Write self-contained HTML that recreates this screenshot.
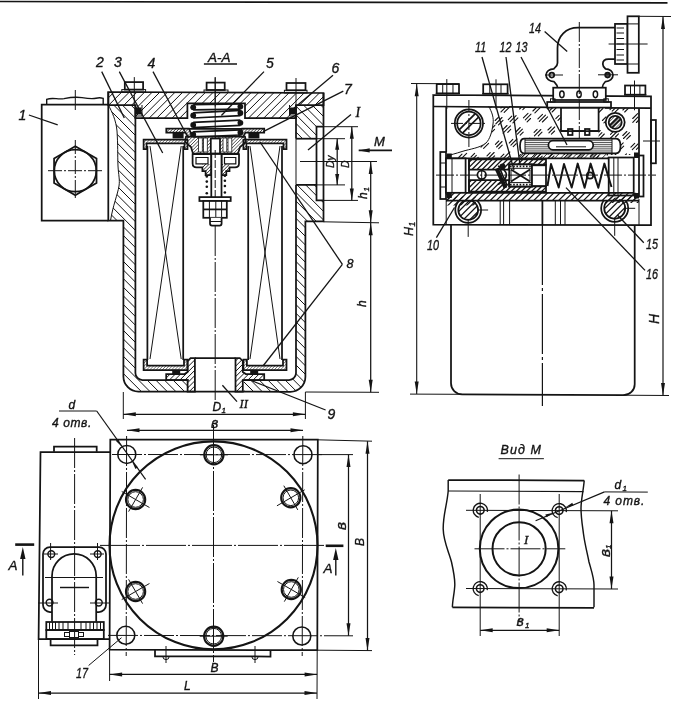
<!DOCTYPE html>
<html lang="ru"><head><meta charset="utf-8"><title>Фильтр</title>
<style>html,body{margin:0;padding:0;background:#ffffff;}svg{display:block;transform:translateZ(0);will-change:transform}</style></head>
<body><svg width="697" height="703" viewBox="0 0 697 703">
<defs><clipPath id="c1"><path d="M108.30,92.00 L323.50,93.00 L323.50,105.00 L296.00,105.00 L296.00,118.00 L245.00,118.00 L245.00,103.40 L187.40,103.40 L187.40,118.00 L135.40,118.00 L135.40,105.00 L108.30,105.00 Z"/></clipPath>
<clipPath id="c2"><path d="M108.4,105 C112,112 116,120 117,131 C118,145 117.5,155 118,166 C118.5,175 120,180 119,186 C117.5,195 113,205 110.5,220.7 L123.4,220.7 L123.4,376.5 A15,15 0 0 0 138.4,391.5 L188.7,391.5 L188.7,380 L142.4,380 A7,7 0 0 1 135.4,373 L135.4,105 Z"/></clipPath>
<clipPath id="c3"><path d="M296,105 L323.5,105 L323.5,126.7 L316.5,126.7 L316.5,138.7 L296,138.7 Z"/></clipPath>
<clipPath id="c4"><path d="M296,184.9 L316.5,184.9 L316.5,200.4 L323.5,200.4 L323.5,221.3 L305.4,221.3 L305.4,376.8 A15,15 0 0 1 290.4,391.8 L244,391.8 L244,380 L289,380 A7,7 0 0 0 296,373 Z"/></clipPath>
<clipPath id="c5"><path d="M143.6,139.6 L187.5,139.6 L187.5,149 L184.5,149 L184.5,143.4 L146.6,143.4 L146.6,149 L143.6,149 Z"/></clipPath>
<clipPath id="c6"><path d="M143.6,359.5 L147.1,359.5 L147.1,365.5 L184.0,365.5 L184.0,359.5 L187.5,359.5 L187.5,370 L143.6,370 Z"/></clipPath>
<clipPath id="c7"><path d="M243.4,139.6 L286.5,139.6 L286.5,149 L283.5,149 L283.5,143.4 L246.4,143.4 L246.4,149 L243.4,149 Z"/></clipPath>
<clipPath id="c8"><path d="M243.4,359.5 L246.9,359.5 L246.9,365.5 L283.0,365.5 L283.0,359.5 L286.5,359.5 L286.5,370 L243.4,370 Z"/></clipPath>
<clipPath id="c9"><path d="M194.89999999999998,358 L190.6,358 L187.6,361 L187.6,372 L184.6,374 L166.2,374 L166.2,380 L187.6,380 L187.6,391.5 L194.89999999999998,391.5 Z"/></clipPath>
<clipPath id="c10"><path d="M235.5,358 L239.79999999999998,358 L242.79999999999998,361 L242.79999999999998,372 L245.79999999999998,374 L264.2,374 L264.2,380 L242.79999999999998,380 L242.79999999999998,391.5 L235.5,391.5 Z"/></clipPath>
<clipPath id="c11"><path d="M166.3,128.7 L189,128.7 L192,136 L188,137 L185.5,132.6 L166.3,132.6 Z"/></clipPath>
<clipPath id="c12"><path d="M264.2,128.7 L242,128.7 L239,136 L243,137 L245.5,132.6 L264.2,132.6 Z"/></clipPath>
<clipPath id="c13"><path d="M186,136.5 L245,136.5 L246,142 L240,147 L238,153.5 L193,153.5 L191,147 L185,142 Z"/></clipPath>
<clipPath id="c14"><path d="M202.4,164 L211.3,164 L211.3,175 L205.6,175 L205.6,171 L202.4,171 Z"/></clipPath>
<clipPath id="c15"><path d="M221.5,164 L229.5,164 L229.5,171 L226.3,171 L226.3,175 L221.5,175 Z"/></clipPath>
<clipPath id="c16"><path d="M488.7,106.5 C492,112 494,118 493,124 C492,132 490,139 486,143 C480,148 470,149 462,151.5 C456,153.5 450,155 446.2,156 L446.2,159 L608,159 L608,154 L520,154 L520,138.5 L561,138.5 L561,107.4 Z"/></clipPath>
<clipPath id="c17"><path d="M598.6,108 L639,108.2 L639,155 L608,155 L608,154 L620,154 L620,138.5 L598.6,138.5 Z"/></clipPath>
<clipPath id="c18"><path d="M608.7,122.3 a6.5,6.5 0 1 0 13,0 a6.5,6.5 0 1 0 -13,0"/></clipPath>
<clipPath id="c19"><path d="M525,138.6 L612,138.6 L612,153.4 L525,153.4 Z"/></clipPath>
<clipPath id="c20"><path d="M446.2,192.8 L639,192.8 L639,200.6 L446.2,200.6 Z"/></clipPath>
<clipPath id="c21"><path d="M520,153.4 L608.7,153.4 L608.7,158.4 L520,158.4 Z"/></clipPath>
<clipPath id="c22"><path d="M469,159.3 L546,159.3 L546,164.6 L532,164.6 L532,164.4 L509.2,164.4 L509.2,169.5 L469,169.5 Z"/></clipPath>
<clipPath id="c23"><path d="M469,180 L509.2,180 L509.2,186.5 L532,186.5 L532,186.3 L546,186.3 L546,191.6 L469,191.6 Z"/></clipPath>
<clipPath id="c24"><path d="M446.2,196.5 L476,196.5 L476,205.5 L446.2,205.5 Z"/></clipPath>
<clipPath id="c25"><path d="M606,196.5 L639,196.5 L639,203 L606,203 Z"/></clipPath>
<clipPath id="c26"><rect x="453.3" y="200.6" width="29.8" height="24.9"/></clipPath>
<clipPath id="c27"><path d="M458.09999999999997,210 a10.100000000000001,10.100000000000001 0 1 0 20.200000000000003,0 a10.100000000000001,10.100000000000001 0 1 0 -20.200000000000003,0 Z"/></clipPath>
<clipPath id="c28"><rect x="599.2" y="200.6" width="31.0" height="25.5"/></clipPath>
<clipPath id="c29"><path d="M604.0,208.3 a10.7,10.7 0 1 0 21.4,0 a10.7,10.7 0 1 0 -21.4,0 Z"/></clipPath></defs>
<rect x="0" y="0" width="697" height="703" fill="#ffffff"/>
<g clip-path="url(#c1)" stroke="#141414" stroke-width="1.0"><line x1="53.53" y1="99.20" x2="210.20" y2="-57.47"/><line x1="57.35" y1="103.02" x2="214.02" y2="-53.65"/><line x1="61.17" y1="106.84" x2="217.84" y2="-49.83"/><line x1="64.99" y1="110.66" x2="221.66" y2="-46.01"/><line x1="68.81" y1="114.47" x2="225.47" y2="-42.19"/><line x1="72.63" y1="118.29" x2="229.29" y2="-38.37"/><line x1="76.44" y1="122.11" x2="233.11" y2="-34.56"/><line x1="80.26" y1="125.93" x2="236.93" y2="-30.74"/><line x1="84.08" y1="129.75" x2="240.75" y2="-26.92"/><line x1="87.90" y1="133.57" x2="244.57" y2="-23.10"/><line x1="91.72" y1="137.38" x2="248.38" y2="-19.28"/><line x1="95.54" y1="141.20" x2="252.20" y2="-15.46"/><line x1="99.36" y1="145.02" x2="256.02" y2="-11.64"/><line x1="103.17" y1="148.84" x2="259.84" y2="-7.83"/><line x1="106.99" y1="152.66" x2="263.66" y2="-4.01"/><line x1="110.81" y1="156.48" x2="267.48" y2="-0.19"/><line x1="114.63" y1="160.29" x2="271.29" y2="3.63"/><line x1="118.45" y1="164.11" x2="275.11" y2="7.45"/><line x1="122.27" y1="167.93" x2="278.93" y2="11.27"/><line x1="126.08" y1="171.75" x2="282.75" y2="15.08"/><line x1="129.90" y1="175.57" x2="286.57" y2="18.90"/><line x1="133.72" y1="179.39" x2="290.39" y2="22.72"/><line x1="137.54" y1="183.20" x2="294.20" y2="26.54"/><line x1="141.36" y1="187.02" x2="298.02" y2="30.36"/><line x1="145.18" y1="190.84" x2="301.84" y2="34.18"/><line x1="148.99" y1="194.66" x2="305.66" y2="37.99"/><line x1="152.81" y1="198.48" x2="309.48" y2="41.81"/><line x1="156.63" y1="202.30" x2="313.30" y2="45.63"/><line x1="160.45" y1="206.12" x2="317.12" y2="49.45"/><line x1="164.27" y1="209.93" x2="320.93" y2="53.27"/><line x1="168.09" y1="213.75" x2="324.75" y2="57.09"/><line x1="171.90" y1="217.57" x2="328.57" y2="60.90"/><line x1="175.72" y1="221.39" x2="332.39" y2="64.72"/><line x1="179.54" y1="225.21" x2="336.21" y2="68.54"/><line x1="183.36" y1="229.03" x2="340.03" y2="72.36"/><line x1="187.18" y1="232.84" x2="343.84" y2="76.18"/><line x1="191.00" y1="236.66" x2="347.66" y2="80.00"/><line x1="194.81" y1="240.48" x2="351.48" y2="83.81"/><line x1="198.63" y1="244.30" x2="355.30" y2="87.63"/><line x1="202.45" y1="248.12" x2="359.12" y2="91.45"/><line x1="206.27" y1="251.94" x2="362.94" y2="95.27"/><line x1="210.09" y1="255.75" x2="366.75" y2="99.09"/><line x1="213.91" y1="259.57" x2="370.57" y2="102.91"/><line x1="217.72" y1="263.39" x2="374.39" y2="106.72"/><line x1="221.54" y1="267.21" x2="378.21" y2="110.54"/></g>
<path d="M108.30,92.00 L323.50,93.00 L323.50,105.00 L296.00,105.00 L296.00,118.00 L245.00,118.00 L245.00,103.40 L187.40,103.40 L187.40,118.00 L135.40,118.00 L135.40,105.00 L108.30,105.00 Z" fill="none" stroke="#141414" stroke-width="1.75" stroke-linejoin="miter"/>
<rect x="136.00" y="107.50" width="5.50" height="7.00" rx="0" fill="#141414" stroke="none"/>
<rect x="290.00" y="107.50" width="5.50" height="7.00" rx="0" fill="#141414" stroke="none"/>
<line x1="135.40" y1="116.00" x2="142.00" y2="116.00" stroke="#141414" stroke-width="1.0" stroke-linecap="butt"/>
<line x1="142.00" y1="105.00" x2="142.00" y2="116.00" stroke="#141414" stroke-width="1.0" stroke-linecap="butt"/>
<line x1="289.50" y1="116.00" x2="296.00" y2="116.00" stroke="#141414" stroke-width="1.0" stroke-linecap="butt"/>
<line x1="289.50" y1="105.00" x2="289.50" y2="116.00" stroke="#141414" stroke-width="1.0" stroke-linecap="butt"/>
<g clip-path="url(#c2)" stroke="#141414" stroke-width="1.0"><line x1="156.51" y1="27.11" x2="370.39" y2="240.99"/><line x1="152.19" y1="31.42" x2="366.08" y2="245.31"/><line x1="147.88" y1="35.73" x2="361.77" y2="249.62"/><line x1="143.57" y1="40.05" x2="357.45" y2="253.93"/><line x1="139.25" y1="44.36" x2="353.14" y2="258.25"/><line x1="134.94" y1="48.67" x2="348.83" y2="262.56"/><line x1="130.63" y1="52.99" x2="344.51" y2="266.87"/><line x1="126.31" y1="57.30" x2="340.20" y2="271.19"/><line x1="122.00" y1="61.61" x2="335.89" y2="275.50"/><line x1="117.69" y1="65.93" x2="331.57" y2="279.81"/><line x1="113.37" y1="70.24" x2="327.26" y2="284.13"/><line x1="109.06" y1="74.55" x2="322.95" y2="288.44"/><line x1="104.75" y1="78.87" x2="318.63" y2="292.75"/><line x1="100.43" y1="83.18" x2="314.32" y2="297.07"/><line x1="96.12" y1="87.49" x2="310.01" y2="301.38"/><line x1="91.81" y1="91.81" x2="305.69" y2="305.69"/><line x1="87.49" y1="96.12" x2="301.38" y2="310.01"/><line x1="83.18" y1="100.43" x2="297.07" y2="314.32"/><line x1="78.87" y1="104.75" x2="292.75" y2="318.63"/><line x1="74.55" y1="109.06" x2="288.44" y2="322.95"/><line x1="70.24" y1="113.37" x2="284.13" y2="327.26"/><line x1="65.93" y1="117.69" x2="279.81" y2="331.57"/><line x1="61.61" y1="122.00" x2="275.50" y2="335.89"/><line x1="57.30" y1="126.31" x2="271.19" y2="340.20"/><line x1="52.99" y1="130.63" x2="266.87" y2="344.51"/><line x1="48.67" y1="134.94" x2="262.56" y2="348.83"/><line x1="44.36" y1="139.25" x2="258.25" y2="353.14"/><line x1="40.05" y1="143.57" x2="253.93" y2="357.45"/><line x1="35.73" y1="147.88" x2="249.62" y2="361.77"/><line x1="31.42" y1="152.19" x2="245.31" y2="366.08"/><line x1="27.11" y1="156.51" x2="240.99" y2="370.39"/><line x1="22.79" y1="160.82" x2="236.68" y2="374.71"/><line x1="18.48" y1="165.13" x2="232.37" y2="379.02"/><line x1="14.17" y1="169.45" x2="228.05" y2="383.33"/><line x1="9.85" y1="173.76" x2="223.74" y2="387.65"/><line x1="5.54" y1="178.07" x2="219.43" y2="391.96"/><line x1="1.23" y1="182.39" x2="215.11" y2="396.27"/><line x1="-3.09" y1="186.70" x2="210.80" y2="400.59"/><line x1="-7.40" y1="191.01" x2="206.49" y2="404.90"/><line x1="-11.71" y1="195.33" x2="202.17" y2="409.21"/><line x1="-16.03" y1="199.64" x2="197.86" y2="413.53"/><line x1="-20.34" y1="203.95" x2="193.55" y2="417.84"/><line x1="-24.65" y1="208.27" x2="189.23" y2="422.15"/><line x1="-28.97" y1="212.58" x2="184.92" y2="426.47"/><line x1="-33.28" y1="216.89" x2="180.61" y2="430.78"/><line x1="-37.59" y1="221.21" x2="176.29" y2="435.09"/><line x1="-41.91" y1="225.52" x2="171.98" y2="439.41"/><line x1="-46.22" y1="229.83" x2="167.67" y2="443.72"/><line x1="-50.54" y1="234.15" x2="163.35" y2="448.04"/><line x1="-54.85" y1="238.46" x2="159.04" y2="452.35"/><line x1="-59.16" y1="242.77" x2="154.73" y2="456.66"/><line x1="-63.48" y1="247.09" x2="150.41" y2="460.98"/><line x1="-67.79" y1="251.40" x2="146.10" y2="465.29"/><line x1="-72.10" y1="255.71" x2="141.79" y2="469.60"/></g>
<path d="M108.4,105 C112,112 116,120 117,131 C118,145 117.5,155 118,166 C118.5,175 120,180 119,186 C117.5,195 113,205 110.5,220.7" fill="none" stroke="#141414" stroke-width="1.0" stroke-linejoin="miter"/>
<g clip-path="url(#c3)" stroke="#141414" stroke-width="1.0"><line x1="315.47" y1="82.55" x2="349.45" y2="116.53"/><line x1="311.16" y1="86.87" x2="345.13" y2="120.84"/><line x1="306.85" y1="91.18" x2="340.82" y2="125.15"/><line x1="302.53" y1="95.49" x2="336.51" y2="129.47"/><line x1="298.22" y1="99.81" x2="332.19" y2="133.78"/><line x1="293.91" y1="104.12" x2="327.88" y2="138.09"/><line x1="289.59" y1="108.43" x2="323.57" y2="142.41"/><line x1="285.28" y1="112.75" x2="319.25" y2="146.72"/><line x1="280.97" y1="117.06" x2="314.94" y2="151.03"/><line x1="276.65" y1="121.37" x2="310.63" y2="155.35"/><line x1="272.34" y1="125.69" x2="306.31" y2="159.66"/><line x1="268.03" y1="130.00" x2="302.00" y2="163.97"/></g>
<g clip-path="url(#c4)" stroke="#141414" stroke-width="1.0"><line x1="292.06" y1="119.53" x2="452.47" y2="279.94"/><line x1="287.75" y1="123.84" x2="448.16" y2="284.25"/><line x1="283.44" y1="128.15" x2="443.85" y2="288.56"/><line x1="279.12" y1="132.47" x2="439.53" y2="292.88"/><line x1="274.81" y1="136.78" x2="435.22" y2="297.19"/><line x1="270.50" y1="141.09" x2="430.91" y2="301.50"/><line x1="266.18" y1="145.41" x2="426.59" y2="305.82"/><line x1="261.87" y1="149.72" x2="422.28" y2="310.13"/><line x1="257.56" y1="154.03" x2="417.97" y2="314.44"/><line x1="253.24" y1="158.35" x2="413.65" y2="318.76"/><line x1="248.93" y1="162.66" x2="409.34" y2="323.07"/><line x1="244.62" y1="166.97" x2="405.03" y2="327.38"/><line x1="240.30" y1="171.29" x2="400.71" y2="331.70"/><line x1="235.99" y1="175.60" x2="396.40" y2="336.01"/><line x1="231.68" y1="179.91" x2="392.09" y2="340.32"/><line x1="227.36" y1="184.23" x2="387.77" y2="344.64"/><line x1="223.05" y1="188.54" x2="383.46" y2="348.95"/><line x1="218.73" y1="192.85" x2="379.15" y2="353.27"/><line x1="214.42" y1="197.17" x2="374.83" y2="357.58"/><line x1="210.11" y1="201.48" x2="370.52" y2="361.89"/><line x1="205.79" y1="205.79" x2="366.21" y2="366.21"/><line x1="201.48" y1="210.11" x2="361.89" y2="370.52"/><line x1="197.17" y1="214.42" x2="357.58" y2="374.83"/><line x1="192.85" y1="218.73" x2="353.27" y2="379.15"/><line x1="188.54" y1="223.05" x2="348.95" y2="383.46"/><line x1="184.23" y1="227.36" x2="344.64" y2="387.77"/><line x1="179.91" y1="231.68" x2="340.32" y2="392.09"/><line x1="175.60" y1="235.99" x2="336.01" y2="396.40"/><line x1="171.29" y1="240.30" x2="331.70" y2="400.71"/><line x1="166.97" y1="244.62" x2="327.38" y2="405.03"/><line x1="162.66" y1="248.93" x2="323.07" y2="409.34"/><line x1="158.35" y1="253.24" x2="318.76" y2="413.65"/><line x1="154.03" y1="257.56" x2="314.44" y2="417.97"/><line x1="149.72" y1="261.87" x2="310.13" y2="422.28"/><line x1="145.41" y1="266.18" x2="305.82" y2="426.59"/><line x1="141.09" y1="270.50" x2="301.50" y2="430.91"/><line x1="136.78" y1="274.81" x2="297.19" y2="435.22"/><line x1="132.47" y1="279.12" x2="292.88" y2="439.53"/><line x1="128.15" y1="283.44" x2="288.56" y2="443.85"/><line x1="123.84" y1="287.75" x2="284.25" y2="448.16"/><line x1="119.53" y1="292.06" x2="279.94" y2="452.47"/><line x1="115.21" y1="296.38" x2="275.62" y2="456.79"/></g>
<path d="M108.3,92 L108.3,220.7 L123.4,220.7 L123.4,376.5 A15,15 0 0 0 138.4,391.5 L290.4,391.8 A15,15 0 0 0 305.4,376.8 L305.4,221.3 L323.5,221.3 L323.5,93" fill="none" stroke="#141414" stroke-width="1.75" stroke-linejoin="miter"/>
<path d="M135.4,105 L135.4,373 A7,7 0 0 0 142.4,380 L188.7,380" fill="none" stroke="#141414" stroke-width="1.75" stroke-linejoin="miter"/>
<path d="M296,105 L296,138.7 M296,184.9 L296,373 A7,7 0 0 1 289,380 L244,380" fill="none" stroke="#141414" stroke-width="1.75" stroke-linejoin="miter"/>
<line x1="296.00" y1="138.70" x2="296.00" y2="184.90" stroke="#141414" stroke-width="1.0" stroke-linecap="butt"/>
<path d="M323.50,126.70 L316.50,126.70 L316.50,200.40 L323.50,200.40" fill="none" stroke="#141414" stroke-width="1.75" stroke-linejoin="miter"/>
<line x1="296.00" y1="138.70" x2="316.50" y2="138.70" stroke="#141414" stroke-width="1.75" stroke-linecap="butt"/>
<line x1="296.00" y1="184.90" x2="316.50" y2="184.90" stroke="#141414" stroke-width="1.75" stroke-linecap="butt"/>
<path d="M108.30,104.60 L41.70,104.60 L41.70,220.70 L108.30,220.70" fill="none" stroke="#141414" stroke-width="1.75" stroke-linejoin="miter"/>
<path d="M46.7,104.6 L46.7,99.3 C52,97.3 58,99.6 64,98.6 C70,97.4 76,96.8 82,97.6 C88,98.6 92,99.2 96,98.2 C99,97.4 101,97.6 103.2,98.3 L103.2,104.6" fill="none" stroke="#141414" stroke-width="1.4" stroke-linejoin="miter"/>
<path d="M75.30,146.20 L96.52,158.45 L96.52,182.95 L75.30,195.20 L54.08,182.95 L54.08,158.45 Z" fill="none" stroke="#141414" stroke-width="1.75" stroke-linejoin="miter"/>
<circle cx="75.30" cy="170.70" r="21.00" fill="none" stroke="#141414" stroke-width="1.75"/>
<line x1="75.30" y1="90.00" x2="75.30" y2="110.00" stroke="#141414" stroke-width="1.0" stroke-linecap="butt"/>
<line x1="75.30" y1="140.00" x2="75.30" y2="200.00" stroke="#141414" stroke-width="1.0" stroke-dasharray="14 2 2 2" stroke-linecap="butt"/>
<line x1="48.00" y1="170.70" x2="102.00" y2="170.70" stroke="#141414" stroke-width="1.0" stroke-dasharray="14 2 2 2" stroke-linecap="butt"/>
<rect x="124.80" y="82.10" width="18.30" height="7.50" rx="0" fill="none" stroke="#141414" stroke-width="1.75"/>
<rect x="121.80" y="89.60" width="23.80" height="2.40" rx="0" fill="none" stroke="#141414" stroke-width="1.0"/>
<line x1="134.30" y1="77.10" x2="134.30" y2="106.00" stroke="#141414" stroke-width="1.0" stroke-linecap="butt"/>
<rect x="206.60" y="82.60" width="18.10" height="7.40" rx="0" fill="none" stroke="#141414" stroke-width="1.75"/>
<rect x="204.00" y="90.00" width="24.00" height="2.50" rx="0" fill="none" stroke="#141414" stroke-width="1.0"/>
<line x1="215.20" y1="77.60" x2="215.20" y2="106.50" stroke="#141414" stroke-width="1.0" stroke-linecap="butt"/>
<rect x="286.50" y="83.00" width="19.00" height="7.30" rx="0" fill="none" stroke="#141414" stroke-width="1.75"/>
<rect x="284.40" y="90.30" width="22.60" height="2.70" rx="0" fill="none" stroke="#141414" stroke-width="1.0"/>
<line x1="296.00" y1="78.00" x2="296.00" y2="107.00" stroke="#141414" stroke-width="1.0" stroke-linecap="butt"/>
<line x1="215.20" y1="77.00" x2="215.20" y2="150.00" stroke="#141414" stroke-width="1.0" stroke-linecap="butt"/>
<line x1="215.20" y1="226.00" x2="215.20" y2="400.00" stroke="#141414" stroke-width="1.0" stroke-dasharray="30 2 2 2" stroke-linecap="butt"/>
<line x1="147.40" y1="146.00" x2="147.40" y2="360.00" stroke="#141414" stroke-width="1.75" stroke-linecap="butt"/>
<line x1="183.20" y1="146.00" x2="183.20" y2="360.00" stroke="#141414" stroke-width="1.75" stroke-linecap="butt"/>
<line x1="150.00" y1="146.00" x2="181.20" y2="359.00" stroke="#141414" stroke-width="1.0" stroke-linecap="butt"/>
<line x1="181.20" y1="146.00" x2="150.00" y2="359.00" stroke="#141414" stroke-width="1.0" stroke-linecap="butt"/>
<g clip-path="url(#c5)" stroke="#141414" stroke-width="0.6"><line x1="128.45" y1="142.23" x2="163.28" y2="107.40"/><line x1="130.01" y1="143.79" x2="164.84" y2="108.96"/><line x1="131.56" y1="145.34" x2="166.39" y2="110.51"/><line x1="133.12" y1="146.90" x2="167.95" y2="112.07"/><line x1="134.67" y1="148.45" x2="169.50" y2="113.62"/><line x1="136.23" y1="150.01" x2="171.06" y2="115.18"/><line x1="137.78" y1="151.56" x2="172.61" y2="116.73"/><line x1="139.34" y1="153.12" x2="174.17" y2="118.29"/><line x1="140.90" y1="154.68" x2="175.73" y2="119.85"/><line x1="142.45" y1="156.23" x2="177.28" y2="121.40"/><line x1="144.01" y1="157.79" x2="178.84" y2="122.96"/><line x1="145.56" y1="159.34" x2="180.39" y2="124.51"/><line x1="147.12" y1="160.90" x2="181.95" y2="126.07"/><line x1="148.67" y1="162.45" x2="183.50" y2="127.62"/><line x1="150.23" y1="164.01" x2="185.06" y2="129.18"/><line x1="151.78" y1="165.56" x2="186.61" y2="130.73"/><line x1="153.34" y1="167.12" x2="188.17" y2="132.29"/><line x1="154.90" y1="168.68" x2="189.73" y2="133.85"/><line x1="156.45" y1="170.23" x2="191.28" y2="135.40"/><line x1="158.01" y1="171.79" x2="192.84" y2="136.96"/><line x1="159.56" y1="173.34" x2="194.39" y2="138.51"/><line x1="161.12" y1="174.90" x2="195.95" y2="140.07"/><line x1="162.67" y1="176.45" x2="197.50" y2="141.62"/><line x1="164.23" y1="178.01" x2="199.06" y2="143.18"/><line x1="165.79" y1="179.57" x2="200.62" y2="144.74"/><line x1="167.34" y1="181.12" x2="202.17" y2="146.29"/></g>
<path d="M143.6,139.6 L187.5,139.6 L187.5,149 L184.5,149 L184.5,143.4 L146.6,143.4 L146.6,149 L143.6,149 Z" fill="none" stroke="#141414" stroke-width="1.75" stroke-linejoin="miter"/>
<g clip-path="url(#c6)" stroke="#141414" stroke-width="0.6"><line x1="128.56" y1="363.02" x2="163.57" y2="328.01"/><line x1="130.12" y1="364.58" x2="165.13" y2="329.57"/><line x1="131.67" y1="366.13" x2="166.68" y2="331.12"/><line x1="133.23" y1="367.69" x2="168.24" y2="332.68"/><line x1="134.78" y1="369.24" x2="169.79" y2="334.23"/><line x1="136.34" y1="370.80" x2="171.35" y2="335.79"/><line x1="137.89" y1="372.35" x2="172.90" y2="337.34"/><line x1="139.45" y1="373.91" x2="174.46" y2="338.90"/><line x1="141.01" y1="375.47" x2="176.02" y2="340.46"/><line x1="142.56" y1="377.02" x2="177.57" y2="342.01"/><line x1="144.12" y1="378.58" x2="179.13" y2="343.57"/><line x1="145.67" y1="380.13" x2="180.68" y2="345.12"/><line x1="147.23" y1="381.69" x2="182.24" y2="346.68"/><line x1="148.78" y1="383.24" x2="183.79" y2="348.23"/><line x1="150.34" y1="384.80" x2="185.35" y2="349.79"/><line x1="151.90" y1="386.35" x2="186.90" y2="351.35"/><line x1="153.45" y1="387.91" x2="188.46" y2="352.90"/><line x1="155.01" y1="389.47" x2="190.02" y2="354.46"/><line x1="156.56" y1="391.02" x2="191.57" y2="356.01"/><line x1="158.12" y1="392.58" x2="193.13" y2="357.57"/><line x1="159.67" y1="394.13" x2="194.68" y2="359.12"/><line x1="161.23" y1="395.69" x2="196.24" y2="360.68"/><line x1="162.78" y1="397.24" x2="197.79" y2="362.23"/><line x1="164.34" y1="398.80" x2="199.35" y2="363.79"/><line x1="165.90" y1="400.36" x2="200.91" y2="365.35"/><line x1="167.45" y1="401.91" x2="202.46" y2="366.90"/></g>
<path d="M143.6,359.5 L147.1,359.5 L147.1,365.5 L184.0,365.5 L184.0,359.5 L187.5,359.5 L187.5,370 L143.6,370 Z" fill="none" stroke="#141414" stroke-width="1.75" stroke-linejoin="miter"/>
<line x1="248.20" y1="146.00" x2="248.20" y2="360.00" stroke="#141414" stroke-width="1.75" stroke-linecap="butt"/>
<line x1="282.00" y1="146.00" x2="282.00" y2="360.00" stroke="#141414" stroke-width="1.75" stroke-linecap="butt"/>
<line x1="250.00" y1="146.00" x2="280.00" y2="359.00" stroke="#141414" stroke-width="1.0" stroke-linecap="butt"/>
<line x1="280.00" y1="146.00" x2="250.00" y2="359.00" stroke="#141414" stroke-width="1.0" stroke-linecap="butt"/>
<g clip-path="url(#c7)" stroke="#141414" stroke-width="0.6"><line x1="228.20" y1="142.04" x2="262.49" y2="107.75"/><line x1="229.76" y1="143.59" x2="264.04" y2="109.31"/><line x1="231.32" y1="145.15" x2="265.60" y2="110.87"/><line x1="232.87" y1="146.70" x2="267.15" y2="112.42"/><line x1="234.43" y1="148.26" x2="268.71" y2="113.98"/><line x1="235.98" y1="149.81" x2="270.26" y2="115.53"/><line x1="237.54" y1="151.37" x2="271.82" y2="117.09"/><line x1="239.09" y1="152.93" x2="273.38" y2="118.64"/><line x1="240.65" y1="154.48" x2="274.93" y2="120.20"/><line x1="242.21" y1="156.04" x2="276.49" y2="121.76"/><line x1="243.76" y1="157.59" x2="278.04" y2="123.31"/><line x1="245.32" y1="159.15" x2="279.60" y2="124.87"/><line x1="246.87" y1="160.70" x2="281.15" y2="126.42"/><line x1="248.43" y1="162.26" x2="282.71" y2="127.98"/><line x1="249.98" y1="163.82" x2="284.27" y2="129.53"/><line x1="251.54" y1="165.37" x2="285.82" y2="131.09"/><line x1="253.09" y1="166.93" x2="287.38" y2="132.64"/><line x1="254.65" y1="168.48" x2="288.93" y2="134.20"/><line x1="256.21" y1="170.04" x2="290.49" y2="135.76"/><line x1="257.76" y1="171.59" x2="292.04" y2="137.31"/><line x1="259.32" y1="173.15" x2="293.60" y2="138.87"/><line x1="260.87" y1="174.70" x2="295.15" y2="140.42"/><line x1="262.43" y1="176.26" x2="296.71" y2="141.98"/><line x1="263.98" y1="177.82" x2="298.27" y2="143.53"/><line x1="265.54" y1="179.37" x2="299.82" y2="145.09"/><line x1="267.10" y1="180.93" x2="301.38" y2="146.65"/></g>
<path d="M243.4,139.6 L286.5,139.6 L286.5,149 L283.5,149 L283.5,143.4 L246.4,143.4 L246.4,149 L243.4,149 Z" fill="none" stroke="#141414" stroke-width="1.75" stroke-linejoin="miter"/>
<g clip-path="url(#c8)" stroke="#141414" stroke-width="0.6"><line x1="228.31" y1="362.83" x2="262.78" y2="328.36"/><line x1="229.87" y1="364.38" x2="264.33" y2="329.92"/><line x1="231.42" y1="365.94" x2="265.89" y2="331.47"/><line x1="232.98" y1="367.49" x2="267.44" y2="333.03"/><line x1="234.54" y1="369.05" x2="269.00" y2="334.59"/><line x1="236.09" y1="370.61" x2="270.56" y2="336.14"/><line x1="237.65" y1="372.16" x2="272.11" y2="337.70"/><line x1="239.20" y1="373.72" x2="273.67" y2="339.25"/><line x1="240.76" y1="375.27" x2="275.22" y2="340.81"/><line x1="242.31" y1="376.83" x2="276.78" y2="342.36"/><line x1="243.87" y1="378.38" x2="278.33" y2="343.92"/><line x1="245.43" y1="379.94" x2="279.89" y2="345.48"/><line x1="246.98" y1="381.50" x2="281.45" y2="347.03"/><line x1="248.54" y1="383.05" x2="283.00" y2="348.59"/><line x1="250.09" y1="384.61" x2="284.56" y2="350.14"/><line x1="251.65" y1="386.16" x2="286.11" y2="351.70"/><line x1="253.20" y1="387.72" x2="287.67" y2="353.25"/><line x1="254.76" y1="389.27" x2="289.22" y2="354.81"/><line x1="256.32" y1="390.83" x2="290.78" y2="356.37"/><line x1="257.87" y1="392.38" x2="292.33" y2="357.92"/><line x1="259.43" y1="393.94" x2="293.89" y2="359.48"/><line x1="260.98" y1="395.50" x2="295.45" y2="361.03"/><line x1="262.54" y1="397.05" x2="297.00" y2="362.59"/><line x1="264.09" y1="398.61" x2="298.56" y2="364.14"/><line x1="265.65" y1="400.16" x2="300.11" y2="365.70"/><line x1="267.20" y1="401.72" x2="301.67" y2="367.25"/></g>
<path d="M243.4,359.5 L246.9,359.5 L246.9,365.5 L283.0,365.5 L283.0,359.5 L286.5,359.5 L286.5,370 L243.4,370 Z" fill="none" stroke="#141414" stroke-width="1.75" stroke-linejoin="miter"/>
<g clip-path="url(#c9)" stroke="#141414" stroke-width="1.0"><line x1="142.01" y1="370.79" x2="176.84" y2="335.96"/><line x1="144.62" y1="373.41" x2="179.46" y2="338.57"/><line x1="147.24" y1="376.02" x2="182.07" y2="341.19"/><line x1="149.85" y1="378.64" x2="184.69" y2="343.80"/><line x1="152.47" y1="381.25" x2="187.30" y2="346.42"/><line x1="155.09" y1="383.87" x2="189.92" y2="349.04"/><line x1="157.70" y1="386.49" x2="192.54" y2="351.65"/><line x1="160.32" y1="389.10" x2="195.15" y2="354.27"/><line x1="162.94" y1="391.72" x2="197.77" y2="356.89"/><line x1="165.55" y1="394.34" x2="200.39" y2="359.50"/><line x1="168.17" y1="396.95" x2="203.00" y2="362.12"/><line x1="170.78" y1="399.57" x2="205.62" y2="364.73"/><line x1="173.40" y1="402.18" x2="208.23" y2="367.35"/><line x1="176.02" y1="404.80" x2="210.85" y2="369.97"/><line x1="178.63" y1="407.42" x2="213.47" y2="372.58"/><line x1="181.25" y1="410.03" x2="216.08" y2="375.20"/><line x1="183.87" y1="412.65" x2="218.70" y2="377.82"/></g>
<path d="M194.89999999999998,358 L190.6,358 L187.6,361 L187.6,372 L184.6,374 L166.2,374 L166.2,380 L187.6,380 L187.6,391.5 L194.89999999999998,391.5 Z" fill="none" stroke="#141414" stroke-width="1.75" stroke-linejoin="miter"/>
<rect x="172.20" y="369.80" width="8.00" height="4.40" rx="0" fill="#141414" stroke="none"/>
<g clip-path="url(#c10)" stroke="#141414" stroke-width="1.0"><line x1="210.67" y1="370.15" x2="245.50" y2="335.32"/><line x1="213.28" y1="372.77" x2="248.12" y2="337.93"/><line x1="215.90" y1="375.38" x2="250.73" y2="340.55"/><line x1="218.52" y1="378.00" x2="253.35" y2="343.17"/><line x1="221.13" y1="380.62" x2="255.97" y2="345.78"/><line x1="223.75" y1="383.23" x2="258.58" y2="348.40"/><line x1="226.36" y1="385.85" x2="261.20" y2="351.01"/><line x1="228.98" y1="388.46" x2="263.81" y2="353.63"/><line x1="231.60" y1="391.08" x2="266.43" y2="356.25"/><line x1="234.21" y1="393.70" x2="269.05" y2="358.86"/><line x1="236.83" y1="396.31" x2="271.66" y2="361.48"/><line x1="239.45" y1="398.93" x2="274.28" y2="364.10"/><line x1="242.06" y1="401.55" x2="276.90" y2="366.71"/><line x1="244.68" y1="404.16" x2="279.51" y2="369.33"/><line x1="247.29" y1="406.78" x2="282.13" y2="371.94"/><line x1="249.91" y1="409.40" x2="284.75" y2="374.56"/><line x1="252.53" y1="412.01" x2="287.36" y2="377.18"/></g>
<path d="M235.5,358 L239.79999999999998,358 L242.79999999999998,361 L242.79999999999998,372 L245.79999999999998,374 L264.2,374 L264.2,380 L242.79999999999998,380 L242.79999999999998,391.5 L235.5,391.5 Z" fill="none" stroke="#141414" stroke-width="1.75" stroke-linejoin="miter"/>
<rect x="250.20" y="369.80" width="8.00" height="4.40" rx="0" fill="#141414" stroke="none"/>
<line x1="194.90" y1="358.00" x2="235.50" y2="358.00" stroke="#141414" stroke-width="1.75" stroke-linecap="butt"/>
<circle cx="193.20" cy="107.30" r="2.90" fill="#141414" stroke="none"/>
<circle cx="240.40" cy="106.60" r="2.90" fill="#141414" stroke="none"/>
<circle cx="193.20" cy="115.40" r="2.90" fill="#141414" stroke="none"/>
<circle cx="240.40" cy="113.00" r="2.90" fill="#141414" stroke="none"/>
<circle cx="193.20" cy="125.00" r="2.90" fill="#141414" stroke="none"/>
<circle cx="240.40" cy="122.80" r="2.90" fill="#141414" stroke="none"/>
<circle cx="193.20" cy="134.40" r="2.90" fill="#141414" stroke="none"/>
<circle cx="240.40" cy="132.40" r="2.90" fill="#141414" stroke="none"/>
<line x1="193.20" y1="104.70" x2="240.40" y2="104.00" stroke="#141414" stroke-width="1.75" stroke-linecap="butt"/>
<line x1="193.20" y1="109.90" x2="240.40" y2="109.20" stroke="#141414" stroke-width="1.75" stroke-linecap="butt"/>
<line x1="193.20" y1="112.80" x2="240.40" y2="110.40" stroke="#141414" stroke-width="1.75" stroke-linecap="butt"/>
<line x1="193.20" y1="118.00" x2="240.40" y2="115.60" stroke="#141414" stroke-width="1.75" stroke-linecap="butt"/>
<line x1="193.20" y1="122.40" x2="240.40" y2="120.20" stroke="#141414" stroke-width="1.75" stroke-linecap="butt"/>
<line x1="193.20" y1="127.60" x2="240.40" y2="125.40" stroke="#141414" stroke-width="1.75" stroke-linecap="butt"/>
<line x1="193.20" y1="131.80" x2="240.40" y2="129.80" stroke="#141414" stroke-width="1.75" stroke-linecap="butt"/>
<line x1="193.20" y1="137.00" x2="240.40" y2="135.00" stroke="#141414" stroke-width="1.75" stroke-linecap="butt"/>
<g clip-path="url(#c11)" stroke="#141414" stroke-width="0.8"><line x1="153.22" y1="129.91" x2="176.41" y2="106.72"/><line x1="154.77" y1="131.46" x2="177.96" y2="108.27"/><line x1="156.33" y1="133.02" x2="179.52" y2="109.83"/><line x1="157.89" y1="134.57" x2="181.07" y2="111.39"/><line x1="159.44" y1="136.13" x2="182.63" y2="112.94"/><line x1="161.00" y1="137.68" x2="184.18" y2="114.50"/><line x1="162.55" y1="139.24" x2="185.74" y2="116.05"/><line x1="164.11" y1="140.80" x2="187.30" y2="117.61"/><line x1="165.66" y1="142.35" x2="188.85" y2="119.16"/><line x1="167.22" y1="143.91" x2="190.41" y2="120.72"/><line x1="168.78" y1="145.46" x2="191.96" y2="122.28"/><line x1="170.33" y1="147.02" x2="193.52" y2="123.83"/><line x1="171.89" y1="148.57" x2="195.07" y2="125.39"/><line x1="173.44" y1="150.13" x2="196.63" y2="126.94"/><line x1="175.00" y1="151.69" x2="198.19" y2="128.50"/><line x1="176.55" y1="153.24" x2="199.74" y2="130.05"/><line x1="178.11" y1="154.80" x2="201.30" y2="131.61"/><line x1="179.66" y1="156.35" x2="202.85" y2="133.16"/><line x1="181.22" y1="157.91" x2="204.41" y2="134.72"/></g>
<path d="M166.3,128.7 L189,128.7 L192,136 L188,137 L185.5,132.6 L166.3,132.6 Z" fill="none" stroke="#141414" stroke-width="1.75" stroke-linejoin="miter"/>
<g clip-path="url(#c12)" stroke="#141414" stroke-width="0.8"><line x1="226.55" y1="131.24" x2="249.74" y2="108.05"/><line x1="228.11" y1="132.80" x2="251.30" y2="109.61"/><line x1="229.67" y1="134.35" x2="252.85" y2="111.17"/><line x1="231.22" y1="135.91" x2="254.41" y2="112.72"/><line x1="232.78" y1="137.46" x2="255.96" y2="114.28"/><line x1="234.33" y1="139.02" x2="257.52" y2="115.83"/><line x1="235.89" y1="140.58" x2="259.08" y2="117.39"/><line x1="237.44" y1="142.13" x2="260.63" y2="118.94"/><line x1="239.00" y1="143.69" x2="262.19" y2="120.50"/><line x1="240.55" y1="145.24" x2="263.74" y2="122.05"/><line x1="242.11" y1="146.80" x2="265.30" y2="123.61"/><line x1="243.67" y1="148.35" x2="266.85" y2="125.17"/><line x1="245.22" y1="149.91" x2="268.41" y2="126.72"/><line x1="246.78" y1="151.47" x2="269.97" y2="128.28"/><line x1="248.33" y1="153.02" x2="271.52" y2="129.83"/><line x1="249.89" y1="154.58" x2="273.08" y2="131.39"/><line x1="251.44" y1="156.13" x2="274.63" y2="132.94"/><line x1="253.00" y1="157.69" x2="276.19" y2="134.50"/><line x1="254.56" y1="159.24" x2="277.74" y2="136.06"/></g>
<path d="M264.2,128.7 L242,128.7 L239,136 L243,137 L245.5,132.6 L264.2,132.6 Z" fill="none" stroke="#141414" stroke-width="1.75" stroke-linejoin="miter"/>
<line x1="189.00" y1="128.90" x2="242.00" y2="128.90" stroke="#141414" stroke-width="1.75" stroke-linecap="butt"/>
<rect x="172.60" y="132.60" width="11.00" height="5.80" rx="0" fill="#141414" stroke="none"/>
<rect x="248.40" y="132.60" width="11.00" height="5.80" rx="0" fill="#141414" stroke="none"/>
<g clip-path="url(#c13)" stroke="#141414" stroke-width="0.75"><line x1="165.78" y1="143.08" x2="213.58" y2="95.28"/><line x1="167.48" y1="144.78" x2="215.28" y2="96.98"/><line x1="169.18" y1="146.48" x2="216.98" y2="98.68"/><line x1="170.87" y1="148.17" x2="218.67" y2="100.37"/><line x1="172.57" y1="149.87" x2="220.37" y2="102.07"/><line x1="174.27" y1="151.57" x2="222.07" y2="103.77"/><line x1="175.96" y1="153.26" x2="223.76" y2="105.46"/><line x1="177.66" y1="154.96" x2="225.46" y2="107.16"/><line x1="179.36" y1="156.66" x2="227.16" y2="108.86"/><line x1="181.06" y1="158.36" x2="228.86" y2="110.56"/><line x1="182.75" y1="160.05" x2="230.55" y2="112.25"/><line x1="184.45" y1="161.75" x2="232.25" y2="113.95"/><line x1="186.15" y1="163.45" x2="233.95" y2="115.65"/><line x1="187.84" y1="165.14" x2="235.64" y2="117.34"/><line x1="189.54" y1="166.84" x2="237.34" y2="119.04"/><line x1="191.24" y1="168.54" x2="239.04" y2="120.74"/><line x1="192.93" y1="170.24" x2="240.74" y2="122.43"/><line x1="194.63" y1="171.93" x2="242.43" y2="124.13"/><line x1="196.33" y1="173.63" x2="244.13" y2="125.83"/><line x1="198.03" y1="175.33" x2="245.83" y2="127.53"/><line x1="199.72" y1="177.02" x2="247.52" y2="129.22"/><line x1="201.42" y1="178.72" x2="249.22" y2="130.92"/><line x1="203.12" y1="180.42" x2="250.92" y2="132.62"/><line x1="204.81" y1="182.11" x2="252.61" y2="134.31"/><line x1="206.51" y1="183.81" x2="254.31" y2="136.01"/><line x1="208.21" y1="185.51" x2="256.01" y2="137.71"/><line x1="209.91" y1="187.21" x2="257.71" y2="139.41"/><line x1="211.60" y1="188.90" x2="259.40" y2="141.10"/><line x1="213.30" y1="190.60" x2="261.10" y2="142.80"/><line x1="215.00" y1="192.30" x2="262.80" y2="144.50"/><line x1="216.69" y1="193.99" x2="264.49" y2="146.19"/><line x1="218.39" y1="195.69" x2="266.19" y2="147.89"/></g>
<path d="M186,136.5 L245,136.5 L246,142 L240,147 L238,153.5 L193,153.5 L191,147 L185,142 Z" fill="none" stroke="#141414" stroke-width="1.75" stroke-linejoin="miter"/>
<rect x="198.50" y="138.00" width="3.80" height="14.00" rx="0" fill="#fff" stroke="#141414" stroke-width="0.8"/>
<rect x="203.50" y="138.00" width="3.80" height="14.00" rx="0" fill="#fff" stroke="#141414" stroke-width="0.8"/>
<rect x="223.00" y="138.00" width="3.80" height="14.00" rx="0" fill="#fff" stroke="#141414" stroke-width="0.8"/>
<rect x="228.00" y="138.00" width="3.80" height="14.00" rx="0" fill="#fff" stroke="#141414" stroke-width="0.8"/>
<rect x="210.80" y="138.50" width="9.20" height="15.00" rx="0" fill="#fff" stroke="#141414" stroke-width="1.75"/>
<path d="M192.6,154 L239,154 L239,163.5 Q239,167.3 235,167.3 L229.5,167.3 L229.5,171 L226.3,171 L226.3,175 L221.5,175 L221.5,154 L211.3,154 L211.3,175 L205.6,175 L205.6,171 L202.4,171 L202.4,167.3 L196.6,167.3 Q192.6,167.3 192.6,163.5 Z" fill="#fff" stroke="#141414" stroke-width="1.75" stroke-linejoin="miter"/>
<path d="M196,157.5 L208,157.5 L208,163.8 L196,163.8 Z" fill="none" stroke="#141414" stroke-width="1.2" stroke-linejoin="miter"/>
<path d="M224.5,157.5 L235.8,157.5 L235.8,163.8 L224.5,163.8 Z" fill="none" stroke="#141414" stroke-width="1.2" stroke-linejoin="miter"/>
<g clip-path="url(#c14)" stroke="#141414" stroke-width="0.9"><line x1="190.27" y1="166.11" x2="203.61" y2="152.77"/><line x1="191.97" y1="167.81" x2="205.31" y2="154.47"/><line x1="193.66" y1="169.51" x2="207.01" y2="156.16"/><line x1="195.36" y1="171.20" x2="208.70" y2="157.86"/><line x1="197.06" y1="172.90" x2="210.40" y2="159.56"/><line x1="198.76" y1="174.60" x2="212.10" y2="161.26"/><line x1="200.45" y1="176.29" x2="213.79" y2="162.95"/><line x1="202.15" y1="177.99" x2="215.49" y2="164.65"/><line x1="203.85" y1="179.69" x2="217.19" y2="166.35"/><line x1="205.54" y1="181.38" x2="218.88" y2="168.04"/><line x1="207.24" y1="183.08" x2="220.58" y2="169.74"/><line x1="208.94" y1="184.78" x2="222.28" y2="171.44"/></g>
<g clip-path="url(#c15)" stroke="#141414" stroke-width="0.9"><line x1="209.93" y1="166.81" x2="222.81" y2="153.93"/><line x1="211.63" y1="168.51" x2="224.51" y2="155.63"/><line x1="213.33" y1="170.21" x2="226.21" y2="157.33"/><line x1="215.03" y1="171.90" x2="227.90" y2="159.03"/><line x1="216.72" y1="173.60" x2="229.60" y2="160.72"/><line x1="218.42" y1="175.30" x2="231.30" y2="162.42"/><line x1="220.12" y1="176.99" x2="232.99" y2="164.12"/><line x1="221.81" y1="178.69" x2="234.69" y2="165.81"/><line x1="223.51" y1="180.39" x2="236.39" y2="167.51"/><line x1="225.21" y1="182.09" x2="238.09" y2="169.21"/><line x1="226.90" y1="183.78" x2="239.78" y2="170.90"/><line x1="228.60" y1="185.48" x2="241.48" y2="172.60"/></g>
<rect x="211.30" y="154.00" width="10.20" height="44.00" rx="0" fill="#fff" stroke="#141414" stroke-width="1.75"/>
<line x1="215.20" y1="150.00" x2="215.20" y2="226.00" stroke="#141414" stroke-width="1.0" stroke-dasharray="8 2" stroke-linecap="butt"/>
<circle cx="206.80" cy="176.50" r="1.30" fill="#141414" stroke="none"/>
<circle cx="224.90" cy="175.70" r="1.30" fill="#141414" stroke="none"/>
<circle cx="206.80" cy="181.60" r="1.30" fill="#141414" stroke="none"/>
<circle cx="224.90" cy="180.80" r="1.30" fill="#141414" stroke="none"/>
<circle cx="206.80" cy="186.80" r="1.30" fill="#141414" stroke="none"/>
<circle cx="224.90" cy="186.00" r="1.30" fill="#141414" stroke="none"/>
<circle cx="206.80" cy="193.30" r="1.30" fill="#141414" stroke="none"/>
<circle cx="224.90" cy="192.50" r="1.30" fill="#141414" stroke="none"/>
<rect x="199.40" y="197.10" width="31.30" height="3.90" rx="0" fill="#fff" stroke="#141414" stroke-width="1.75"/>
<rect x="203.30" y="201.00" width="23.50" height="16.80" rx="0" fill="#fff" stroke="#141414" stroke-width="1.75"/>
<line x1="203.30" y1="209.40" x2="226.80" y2="209.40" stroke="#141414" stroke-width="1.75" stroke-linecap="butt"/>
<line x1="209.40" y1="201.00" x2="209.40" y2="217.80" stroke="#141414" stroke-width="1.0" stroke-linecap="butt"/>
<line x1="215.80" y1="201.00" x2="215.80" y2="217.80" stroke="#141414" stroke-width="1.0" stroke-linecap="butt"/>
<line x1="221.60" y1="201.00" x2="221.60" y2="217.80" stroke="#141414" stroke-width="1.0" stroke-linecap="butt"/>
<path d="M210,217.8 L210,223.5 Q210,225.5 212,225.5 L219.6,225.5 Q221.6,225.5 221.6,223.5 L221.6,217.8" fill="#fff" stroke="#141414" stroke-width="1.75" stroke-linejoin="miter"/>
<line x1="210.00" y1="221.50" x2="221.60" y2="221.50" stroke="#141414" stroke-width="1.0" stroke-linecap="butt"/>
<path d="M110.30,439.60 L317.80,439.60 L317.30,650.20 L109.60,649.60 Z" fill="none" stroke="#141414" stroke-width="1.75" stroke-linejoin="miter"/>
<circle cx="213.50" cy="545.40" r="104.00" fill="none" stroke="#141414" stroke-width="2.1"/>
<circle cx="126.80" cy="454.40" r="9.00" fill="none" stroke="#141414" stroke-width="1.55"/>
<circle cx="303.00" cy="454.70" r="9.00" fill="none" stroke="#141414" stroke-width="1.55"/>
<circle cx="125.80" cy="635.30" r="9.00" fill="none" stroke="#141414" stroke-width="1.55"/>
<circle cx="301.80" cy="636.00" r="9.00" fill="none" stroke="#141414" stroke-width="1.55"/>
<circle cx="213.90" cy="454.80" r="9.60" fill="none" stroke="#141414" stroke-width="2.15"/>
<circle cx="213.90" cy="454.80" r="7.80" fill="none" stroke="#141414" stroke-width="1.0"/>
<line x1="199.90" y1="454.80" x2="227.90" y2="454.80" stroke="#141414" stroke-width="1.0" stroke-linecap="butt"/>
<circle cx="135.60" cy="499.50" r="9.60" fill="none" stroke="#141414" stroke-width="2.15"/>
<circle cx="135.60" cy="499.50" r="7.80" fill="none" stroke="#141414" stroke-width="1.0"/>
<line x1="149.46" y1="507.50" x2="121.74" y2="491.50" stroke="#141414" stroke-width="1.0" stroke-linecap="butt"/>
<line x1="128.60" y1="511.62" x2="142.60" y2="487.38" stroke="#141414" stroke-width="1.0" stroke-linecap="butt"/>
<circle cx="135.60" cy="591.50" r="9.60" fill="none" stroke="#141414" stroke-width="2.15"/>
<circle cx="135.60" cy="591.50" r="7.80" fill="none" stroke="#141414" stroke-width="1.0"/>
<line x1="149.46" y1="583.50" x2="121.74" y2="599.50" stroke="#141414" stroke-width="1.0" stroke-linecap="butt"/>
<line x1="142.60" y1="603.62" x2="128.60" y2="579.38" stroke="#141414" stroke-width="1.0" stroke-linecap="butt"/>
<circle cx="213.70" cy="636.20" r="9.60" fill="none" stroke="#141414" stroke-width="2.15"/>
<circle cx="213.70" cy="636.20" r="7.80" fill="none" stroke="#141414" stroke-width="1.0"/>
<line x1="199.70" y1="636.20" x2="227.70" y2="636.20" stroke="#141414" stroke-width="1.0" stroke-linecap="butt"/>
<circle cx="291.30" cy="589.50" r="9.60" fill="none" stroke="#141414" stroke-width="2.15"/>
<circle cx="291.30" cy="589.50" r="7.80" fill="none" stroke="#141414" stroke-width="1.0"/>
<line x1="277.44" y1="581.50" x2="305.16" y2="597.50" stroke="#141414" stroke-width="1.0" stroke-linecap="butt"/>
<line x1="298.30" y1="577.38" x2="284.30" y2="601.62" stroke="#141414" stroke-width="1.0" stroke-linecap="butt"/>
<circle cx="290.80" cy="497.80" r="9.60" fill="none" stroke="#141414" stroke-width="2.15"/>
<circle cx="290.80" cy="497.80" r="7.80" fill="none" stroke="#141414" stroke-width="1.0"/>
<line x1="276.94" y1="505.80" x2="304.66" y2="489.80" stroke="#141414" stroke-width="1.0" stroke-linecap="butt"/>
<line x1="283.80" y1="485.68" x2="297.80" y2="509.92" stroke="#141414" stroke-width="1.0" stroke-linecap="butt"/>
<line x1="213.50" y1="425.00" x2="213.50" y2="662.00" stroke="#141414" stroke-width="1.0" stroke-dasharray="40 2 2 2" stroke-linecap="butt"/>
<line x1="100.00" y1="545.40" x2="326.00" y2="545.40" stroke="#141414" stroke-width="1.0" stroke-dasharray="40 2 2 2" stroke-linecap="butt"/>
<line x1="126.60" y1="436.00" x2="126.20" y2="656.00" stroke="#141414" stroke-width="1.0" stroke-dasharray="30 2 2 2" stroke-linecap="butt"/>
<line x1="302.80" y1="436.00" x2="302.20" y2="656.00" stroke="#141414" stroke-width="1.0" stroke-dasharray="30 2 2 2" stroke-linecap="butt"/>
<line x1="112.00" y1="454.50" x2="323.00" y2="454.60" stroke="#141414" stroke-width="1.0" stroke-dasharray="30 2 2 2" stroke-linecap="butt"/>
<line x1="108.00" y1="635.40" x2="350.00" y2="635.80" stroke="#141414" stroke-width="1.0" stroke-dasharray="30 2 2 2" stroke-linecap="butt"/>
<path d="M110.30,452.00 L40.50,452.00 L38.60,639.00 L110.00,639.00" fill="none" stroke="#141414" stroke-width="1.75" stroke-linejoin="miter"/>
<path d="M54.00,451.70 L54.00,446.70 L96.70,446.70 L96.70,451.70" fill="none" stroke="#141414" stroke-width="1.75" stroke-linejoin="miter"/>
<line x1="74.60" y1="438.00" x2="74.60" y2="655.00" stroke="#141414" stroke-width="1.0" stroke-dasharray="30 2 2 2" stroke-linecap="butt"/>
<path d="M52,612 L50,612 A7,7 0 0 1 43,605 L43,554 A7,7 0 0 1 50,547 L99,547 A7,7 0 0 1 106,554 L106,605 A7,7 0 0 1 99,612 L96.2,612" fill="none" stroke="#141414" stroke-width="1.75" stroke-linejoin="miter"/>
<circle cx="51.30" cy="554.10" r="3.40" fill="none" stroke="#141414" stroke-width="1.45"/>
<circle cx="97.70" cy="554.10" r="3.40" fill="none" stroke="#141414" stroke-width="1.45"/>
<circle cx="49.60" cy="602.60" r="3.40" fill="none" stroke="#141414" stroke-width="1.45"/>
<circle cx="98.80" cy="602.60" r="3.40" fill="none" stroke="#141414" stroke-width="1.45"/>
<line x1="44.00" y1="554.00" x2="58.00" y2="554.00" stroke="#141414" stroke-width="1.0" stroke-linecap="butt"/>
<line x1="90.00" y1="554.00" x2="104.00" y2="554.00" stroke="#141414" stroke-width="1.0" stroke-linecap="butt"/>
<line x1="38.00" y1="603.00" x2="58.00" y2="603.00" stroke="#141414" stroke-width="1.0" stroke-linecap="butt"/>
<line x1="90.00" y1="603.00" x2="110.00" y2="603.00" stroke="#141414" stroke-width="1.0" stroke-linecap="butt"/>
<line x1="50.60" y1="543.00" x2="50.60" y2="560.00" stroke="#141414" stroke-width="1.0" stroke-linecap="butt"/>
<line x1="97.50" y1="543.00" x2="97.50" y2="560.00" stroke="#141414" stroke-width="1.0" stroke-linecap="butt"/>
<path d="M52,621.5 L52,576 A22.1,22.1 0 0 1 96.2,576 L96.2,621.5" fill="none" stroke="#141414" stroke-width="1.75" stroke-linejoin="miter"/>
<line x1="45.00" y1="577.50" x2="103.00" y2="577.50" stroke="#141414" stroke-width="1.0" stroke-linecap="butt"/>
<line x1="60.00" y1="587.50" x2="89.00" y2="587.50" stroke="#141414" stroke-width="1.45" stroke-linecap="butt"/>
<rect x="46.30" y="622.00" width="57.50" height="8.00" rx="0" fill="none" stroke="#141414" stroke-width="1.75"/>
<line x1="49.50" y1="622.00" x2="49.50" y2="630.00" stroke="#141414" stroke-width="1.0" stroke-linecap="butt"/>
<line x1="52.50" y1="622.00" x2="52.50" y2="630.00" stroke="#141414" stroke-width="1.0" stroke-linecap="butt"/>
<line x1="55.50" y1="622.00" x2="55.50" y2="630.00" stroke="#141414" stroke-width="1.0" stroke-linecap="butt"/>
<line x1="59.00" y1="622.00" x2="59.00" y2="630.00" stroke="#141414" stroke-width="1.0" stroke-linecap="butt"/>
<line x1="63.00" y1="622.00" x2="63.00" y2="630.00" stroke="#141414" stroke-width="1.0" stroke-linecap="butt"/>
<line x1="68.00" y1="622.00" x2="68.00" y2="630.00" stroke="#141414" stroke-width="1.0" stroke-linecap="butt"/>
<line x1="81.00" y1="622.00" x2="81.00" y2="630.00" stroke="#141414" stroke-width="1.0" stroke-linecap="butt"/>
<line x1="86.00" y1="622.00" x2="86.00" y2="630.00" stroke="#141414" stroke-width="1.0" stroke-linecap="butt"/>
<line x1="90.00" y1="622.00" x2="90.00" y2="630.00" stroke="#141414" stroke-width="1.0" stroke-linecap="butt"/>
<line x1="93.50" y1="622.00" x2="93.50" y2="630.00" stroke="#141414" stroke-width="1.0" stroke-linecap="butt"/>
<line x1="97.00" y1="622.00" x2="97.00" y2="630.00" stroke="#141414" stroke-width="1.0" stroke-linecap="butt"/>
<line x1="100.50" y1="622.00" x2="100.50" y2="630.00" stroke="#141414" stroke-width="1.0" stroke-linecap="butt"/>
<rect x="46.30" y="630.00" width="57.50" height="9.00" rx="0" fill="none" stroke="#141414" stroke-width="1.75"/>
<rect x="64.50" y="632.50" width="5.00" height="4.00" rx="0" fill="none" stroke="#141414" stroke-width="1.0"/>
<rect x="78.50" y="632.50" width="5.00" height="4.00" rx="0" fill="none" stroke="#141414" stroke-width="1.0"/>
<rect x="69.50" y="631.50" width="9.00" height="6.00" rx="0" fill="none" stroke="#141414" stroke-width="1.0"/>
<path d="M50.60,639.00 L50.60,645.30 L97.50,645.30 L97.50,639.00" fill="none" stroke="#141414" stroke-width="1.75" stroke-linejoin="miter"/>
<path d="M155.00,650.00 L155.00,656.30 L270.50,656.50 L270.50,650.20" fill="none" stroke="#141414" stroke-width="1.75" stroke-linejoin="miter"/>
<line x1="166.00" y1="646.00" x2="166.00" y2="663.00" stroke="#141414" stroke-width="1.0" stroke-linecap="butt"/>
<path d="M162.8,656.4 A3.2,3.2 0 0 0 169.2,656.4" fill="none" stroke="#141414" stroke-width="1.0" stroke-linejoin="miter"/>
<line x1="255.00" y1="646.00" x2="255.00" y2="663.00" stroke="#141414" stroke-width="1.0" stroke-linecap="butt"/>
<path d="M251.8,656.4 A3.2,3.2 0 0 0 258.2,656.4" fill="none" stroke="#141414" stroke-width="1.0" stroke-linejoin="miter"/>
<line x1="15.20" y1="544.60" x2="34.20" y2="544.60" stroke="#141414" stroke-width="2.6" stroke-linecap="butt"/>
<line x1="325.70" y1="545.80" x2="343.40" y2="545.80" stroke="#141414" stroke-width="2.6" stroke-linecap="butt"/>
<line x1="22.80" y1="575.60" x2="22.80" y2="556.00" stroke="#141414" stroke-width="1.4" stroke-linecap="butt"/>
<path d="M22.80,547.00 L25.50,559.00 L20.10,559.00 Z" fill="#141414"/>
<line x1="335.80" y1="575.60" x2="335.80" y2="557.00" stroke="#141414" stroke-width="1.4" stroke-linecap="butt"/>
<path d="M335.80,548.00 L338.50,560.00 L333.10,560.00 Z" fill="#141414"/>
<text x="8.50" y="569.50" font-family='"Liberation Sans", sans-serif' font-size="13.5" font-style="italic" font-weight="normal" text-anchor="start" fill="#141414" stroke="#141414" stroke-width="0.35" letter-spacing="0">А</text>
<text x="323.50" y="572.50" font-family='"Liberation Sans", sans-serif' font-size="13.5" font-style="italic" font-weight="normal" text-anchor="start" fill="#141414" stroke="#141414" stroke-width="0.35" letter-spacing="0">А</text>
<line x1="109.60" y1="650.00" x2="109.60" y2="681.00" stroke="#141414" stroke-width="1.0" stroke-linecap="butt"/>
<line x1="317.20" y1="650.00" x2="317.00" y2="699.00" stroke="#141414" stroke-width="1.0" stroke-linecap="butt"/>
<line x1="38.50" y1="639.00" x2="38.50" y2="699.00" stroke="#141414" stroke-width="1.0" stroke-linecap="butt"/>
<line x1="109.60" y1="674.40" x2="317.10" y2="674.40" stroke="#141414" stroke-width="1.25" stroke-linecap="butt"/>
<path d="M317.10,674.40 L304.60,676.40 L304.60,672.40 Z" fill="#141414"/>
<path d="M109.60,674.40 L122.10,672.40 L122.10,676.40 Z" fill="#141414"/>
<text x="210.50" y="672.00" font-family='"Liberation Sans", sans-serif' font-size="12" font-style="italic" font-weight="normal" text-anchor="start" fill="#141414" stroke="#141414" stroke-width="0.35" letter-spacing="0">B</text>
<line x1="38.50" y1="693.00" x2="317.00" y2="693.00" stroke="#141414" stroke-width="1.25" stroke-linecap="butt"/>
<path d="M317.00,693.00 L304.50,695.00 L304.50,691.00 Z" fill="#141414"/>
<path d="M38.50,693.00 L51.00,691.00 L51.00,695.00 Z" fill="#141414"/>
<text x="184.00" y="690.00" font-family='"Liberation Sans", sans-serif' font-size="12" font-style="italic" font-weight="normal" text-anchor="start" fill="#141414" stroke="#141414" stroke-width="0.35" letter-spacing="0">L</text>
<line x1="317.50" y1="454.60" x2="353.00" y2="454.60" stroke="#141414" stroke-width="1.0" stroke-linecap="butt"/>
<line x1="350.00" y1="635.80" x2="353.00" y2="635.80" stroke="#141414" stroke-width="1.0" stroke-linecap="butt"/>
<line x1="348.50" y1="454.60" x2="348.50" y2="635.80" stroke="#141414" stroke-width="1.25" stroke-linecap="butt"/>
<path d="M348.50,635.80 L346.50,623.30 L350.50,623.30 Z" fill="#141414"/>
<path d="M348.50,454.60 L350.50,467.10 L346.50,467.10 Z" fill="#141414"/>
<line x1="317.50" y1="439.80" x2="372.00" y2="441.20" stroke="#141414" stroke-width="1.0" stroke-linecap="butt"/>
<line x1="317.50" y1="650.20" x2="372.00" y2="650.60" stroke="#141414" stroke-width="1.0" stroke-linecap="butt"/>
<line x1="367.50" y1="441.20" x2="367.50" y2="650.60" stroke="#141414" stroke-width="1.25" stroke-linecap="butt"/>
<path d="M367.50,650.60 L365.50,638.10 L369.50,638.10 Z" fill="#141414"/>
<path d="M367.50,441.20 L369.50,453.70 L365.50,453.70 Z" fill="#141414"/>
<text transform="translate(346.00 530.00) rotate(-90)" font-family='"Liberation Sans", sans-serif' font-size="15.5" font-style="italic" font-weight="normal" text-anchor="start" fill="#141414" stroke="#141414" stroke-width="0.35" letter-spacing="0">в</text>
<text transform="translate(364.00 546.00) rotate(-90)" font-family='"Liberation Sans", sans-serif' font-size="12" font-style="italic" font-weight="normal" text-anchor="start" fill="#141414" stroke="#141414" stroke-width="0.35" letter-spacing="0">B</text>
<text x="68.50" y="409.00" font-family='"Liberation Sans", sans-serif' font-size="12" font-style="italic" font-weight="normal" text-anchor="start" fill="#141414" stroke="#141414" stroke-width="0.35" letter-spacing="0">d</text>
<line x1="59.00" y1="411.00" x2="96.70" y2="411.00" stroke="#141414" stroke-width="1.0" stroke-linecap="butt"/>
<text x="52.00" y="426.50" font-family='"Liberation Sans", sans-serif' font-size="12" font-style="italic" font-weight="normal" text-anchor="start" fill="#141414" stroke="#141414" stroke-width="0.35" letter-spacing="0.6">4 отв.</text>
<line x1="96.70" y1="411.00" x2="145.60" y2="479.30" stroke="#141414" stroke-width="1.2" stroke-linecap="butt"/>
<path d="M121.60,446.50 L115.72,440.87 L118.16,439.12 Z" fill="#141414"/>
<path d="M132.00,461.50 L137.88,467.13 L135.44,468.88 Z" fill="#141414"/>
<text transform="translate(76.00 678.00) scale(0.72 1)" font-family='"Liberation Sans", sans-serif' font-size="15" font-style="italic" font-weight="normal" text-anchor="start" fill="#141414" stroke="#141414" stroke-width="0.35" letter-spacing="0">17</text>
<line x1="88.60" y1="665.50" x2="121.50" y2="637.70" stroke="#141414" stroke-width="1.0" stroke-linecap="butt"/>
<text x="500.50" y="454.00" font-family='"Liberation Sans", sans-serif' font-size="12.5" font-style="italic" font-weight="normal" text-anchor="start" fill="#141414" stroke="#141414" stroke-width="0.35" letter-spacing="1.1">Вид М</text>
<line x1="498.60" y1="458.70" x2="543.90" y2="458.70" stroke="#141414" stroke-width="1.0" stroke-linecap="butt"/>
<line x1="448.20" y1="480.00" x2="584.20" y2="480.50" stroke="#141414" stroke-width="1.75" stroke-linecap="butt"/>
<line x1="448.20" y1="491.00" x2="583.50" y2="491.60" stroke="#141414" stroke-width="1.2" stroke-linecap="butt"/>
<line x1="452.40" y1="607.40" x2="594.00" y2="607.80" stroke="#141414" stroke-width="1.75" stroke-linecap="butt"/>
<path d="M448.2,480 L448.2,491 C447,505 443,515 443.2,529 C443.5,542 449,552 451.5,562 C453.5,571 455,578 454.8,585 C454.5,593 452.5,600 452.4,607.2" fill="none" stroke="#141414" stroke-width="1.45" stroke-linejoin="miter"/>
<path d="M584.2,480.5 C583.5,490 581,500 581,508 C581,518 582.5,526 583.5,534 C585,545 587.5,554 589,562 C591.5,571 594,578 594,585 L594,607.2" fill="none" stroke="#141414" stroke-width="1.45" stroke-linejoin="miter"/>
<circle cx="519.10" cy="548.80" r="39.30" fill="none" stroke="#141414" stroke-width="2.0"/>
<circle cx="519.10" cy="548.80" r="26.60" fill="none" stroke="#141414" stroke-width="2.0"/>
<path d="M487.30,511.80 A7.1,7.1 0 1 0 478.80,517.30" fill="none" stroke="#141414" stroke-width="1.35" stroke-linejoin="miter"/>
<circle cx="480.30" cy="510.30" r="3.80" fill="none" stroke="#141414" stroke-width="1.55"/>
<path d="M566.20,512.10 A7.1,7.1 0 1 0 557.70,517.60" fill="none" stroke="#141414" stroke-width="1.35" stroke-linejoin="miter"/>
<circle cx="559.20" cy="510.60" r="3.80" fill="none" stroke="#141414" stroke-width="1.55"/>
<path d="M487.20,590.10 A7.1,7.1 0 1 0 478.70,595.60" fill="none" stroke="#141414" stroke-width="1.35" stroke-linejoin="miter"/>
<circle cx="480.20" cy="588.60" r="3.80" fill="none" stroke="#141414" stroke-width="1.55"/>
<path d="M566.20,590.30 A7.1,7.1 0 1 0 557.70,595.80" fill="none" stroke="#141414" stroke-width="1.35" stroke-linejoin="miter"/>
<circle cx="559.20" cy="588.80" r="3.80" fill="none" stroke="#141414" stroke-width="1.55"/>
<line x1="480.20" y1="494.00" x2="480.20" y2="636.00" stroke="#141414" stroke-width="1.0" stroke-linecap="butt"/>
<line x1="559.20" y1="494.00" x2="559.20" y2="636.00" stroke="#141414" stroke-width="1.0" stroke-linecap="butt"/>
<line x1="466.00" y1="510.30" x2="618.00" y2="510.80" stroke="#141414" stroke-width="1.0" stroke-linecap="butt"/>
<line x1="466.00" y1="588.50" x2="618.00" y2="589.00" stroke="#141414" stroke-width="1.0" stroke-linecap="butt"/>
<line x1="519.10" y1="474.50" x2="519.10" y2="621.40" stroke="#141414" stroke-width="1.0" stroke-dasharray="30 2 2 2" stroke-linecap="butt"/>
<line x1="474.50" y1="548.80" x2="565.30" y2="548.80" stroke="#141414" stroke-width="1.0" stroke-dasharray="30 2 2 2" stroke-linecap="butt"/>
<text x="524.00" y="544.00" font-family='"Liberation Serif", serif' font-size="13" font-style="italic" font-weight="normal" text-anchor="start" fill="#141414" stroke="#141414" stroke-width="0.35" letter-spacing="0">I</text>
<line x1="611.50" y1="510.80" x2="611.50" y2="589.00" stroke="#141414" stroke-width="1.25" stroke-linecap="butt"/>
<path d="M611.50,589.00 L609.50,576.50 L613.50,576.50 Z" fill="#141414"/>
<path d="M611.50,510.80 L613.50,523.30 L609.50,523.30 Z" fill="#141414"/>
<text transform="translate(609.50 557.00) rotate(-90)" font-family='"Liberation Sans", sans-serif' font-size="15.5" font-style="italic" font-weight="normal" text-anchor="start" fill="#141414" stroke="#141414" stroke-width="0.35" letter-spacing="0">в</text>
<text transform="translate(611.00 549.00) rotate(-90)" font-family='"Liberation Sans", sans-serif' font-size="8" font-style="italic" font-weight="normal" text-anchor="start" fill="#141414" stroke="#141414" stroke-width="0.35" letter-spacing="0">1</text>
<line x1="480.20" y1="630.30" x2="559.20" y2="630.30" stroke="#141414" stroke-width="1.25" stroke-linecap="butt"/>
<path d="M559.20,630.30 L546.70,632.30 L546.70,628.30 Z" fill="#141414"/>
<path d="M480.20,630.30 L492.70,628.30 L492.70,632.30 Z" fill="#141414"/>
<text x="516.50" y="626.00" font-family='"Liberation Sans", sans-serif' font-size="14" font-style="italic" font-weight="normal" text-anchor="start" fill="#141414" stroke="#141414" stroke-width="0.35" letter-spacing="0">в</text>
<text x="525.00" y="627.50" font-family='"Liberation Sans", sans-serif' font-size="8" font-style="italic" font-weight="normal" text-anchor="start" fill="#141414" stroke="#141414" stroke-width="0.35" letter-spacing="0">1</text>
<text x="614.50" y="489.00" font-family='"Liberation Sans", sans-serif' font-size="12" font-style="italic" font-weight="normal" text-anchor="start" fill="#141414" stroke="#141414" stroke-width="0.35" letter-spacing="0">d</text>
<text x="622.50" y="490.50" font-family='"Liberation Sans", sans-serif' font-size="8" font-style="italic" font-weight="normal" text-anchor="start" fill="#141414" stroke="#141414" stroke-width="0.35" letter-spacing="0">1</text>
<line x1="604.50" y1="491.90" x2="647.80" y2="492.10" stroke="#141414" stroke-width="1.0" stroke-linecap="butt"/>
<text x="603.50" y="504.50" font-family='"Liberation Sans", sans-serif' font-size="12" font-style="italic" font-weight="normal" text-anchor="start" fill="#141414" stroke="#141414" stroke-width="0.35" letter-spacing="0.9">4 отв.</text>
<line x1="604.50" y1="491.90" x2="535.60" y2="520.80" stroke="#141414" stroke-width="1.15" stroke-linecap="butt"/>
<path d="M565.50,507.20 L572.30,502.72 L573.46,505.49 Z" fill="#141414"/>
<path d="M553.30,512.70 L546.50,517.18 L545.34,514.41 Z" fill="#141414"/>
<path d="M451,225 L451,383.3 A11,11 0 0 0 462,394.3 L623.7,395.2 A11,11 0 0 0 634.7,384.2 L634.7,225" fill="none" stroke="#141414" stroke-width="1.75" stroke-linejoin="miter"/>
<line x1="542.40" y1="200.60" x2="542.40" y2="225.00" stroke="#141414" stroke-width="1.75" stroke-linecap="butt"/>
<line x1="542.40" y1="225.00" x2="542.40" y2="406.00" stroke="#141414" stroke-width="1.2" stroke-dasharray="60 3 3 3" stroke-linecap="butt"/>
<path d="M433.30,95.00 L651.00,96.40 L651.00,225.20 L433.30,224.70 Z" fill="none" stroke="#141414" stroke-width="1.75" stroke-linejoin="miter"/>
<line x1="433.30" y1="106.50" x2="553.00" y2="107.30" stroke="#141414" stroke-width="1.75" stroke-linecap="butt"/>
<line x1="605.00" y1="107.80" x2="651.00" y2="108.20" stroke="#141414" stroke-width="1.75" stroke-linecap="butt"/>
<line x1="446.20" y1="106.50" x2="446.20" y2="152.00" stroke="#141414" stroke-width="1.75" stroke-linecap="butt"/>
<line x1="446.20" y1="199.00" x2="446.20" y2="224.70" stroke="#141414" stroke-width="1.0" stroke-linecap="butt"/>
<line x1="639.00" y1="108.20" x2="639.00" y2="155.00" stroke="#141414" stroke-width="1.75" stroke-linecap="butt"/>
<line x1="639.00" y1="199.00" x2="639.00" y2="225.00" stroke="#141414" stroke-width="1.0" stroke-linecap="butt"/>
<rect x="436.70" y="84.10" width="22.30" height="9.30" rx="0" fill="none" stroke="#141414" stroke-width="1.75"/>
<line x1="435.70" y1="93.40" x2="460.00" y2="93.40" stroke="#141414" stroke-width="1.0" stroke-linecap="butt"/>
<line x1="442.72" y1="84.10" x2="442.72" y2="93.40" stroke="#141414" stroke-width="1.0" stroke-linecap="butt"/>
<line x1="452.98" y1="84.10" x2="452.98" y2="93.40" stroke="#141414" stroke-width="1.0" stroke-linecap="butt"/>
<line x1="446.80" y1="79.10" x2="446.80" y2="109.00" stroke="#141414" stroke-width="1.0" stroke-linecap="butt"/>
<rect x="483.20" y="84.30" width="24.40" height="9.40" rx="0" fill="none" stroke="#141414" stroke-width="1.75"/>
<line x1="482.20" y1="93.70" x2="508.60" y2="93.70" stroke="#141414" stroke-width="1.0" stroke-linecap="butt"/>
<line x1="489.79" y1="84.30" x2="489.79" y2="93.70" stroke="#141414" stroke-width="1.0" stroke-linecap="butt"/>
<line x1="501.01" y1="84.30" x2="501.01" y2="93.70" stroke="#141414" stroke-width="1.0" stroke-linecap="butt"/>
<line x1="496.00" y1="79.30" x2="496.00" y2="109.30" stroke="#141414" stroke-width="1.0" stroke-linecap="butt"/>
<rect x="625.00" y="85.50" width="20.40" height="9.20" rx="0" fill="none" stroke="#141414" stroke-width="1.75"/>
<line x1="624.00" y1="94.70" x2="646.40" y2="94.70" stroke="#141414" stroke-width="1.0" stroke-linecap="butt"/>
<line x1="630.51" y1="85.50" x2="630.51" y2="94.70" stroke="#141414" stroke-width="1.0" stroke-linecap="butt"/>
<line x1="639.89" y1="85.50" x2="639.89" y2="94.70" stroke="#141414" stroke-width="1.0" stroke-linecap="butt"/>
<line x1="634.50" y1="80.50" x2="634.50" y2="110.30" stroke="#141414" stroke-width="1.0" stroke-linecap="butt"/>
<g clip-path="url(#c16)" stroke="#141414" stroke-width="1.1" stroke-linecap="round"><line x1="440.3" y1="107.0" x2="443.9" y2="103.4"/><line x1="440.6" y1="110.5" x2="447.2" y2="103.9"/><line x1="445.3" y1="109.7" x2="449.9" y2="105.1"/><line x1="455.6" y1="105.5" x2="460.5" y2="100.6"/><line x1="457.2" y1="107.8" x2="463.5" y2="101.5"/><line x1="458.6" y1="110.2" x2="463.8" y2="105.0"/><line x1="471.7" y1="108.5" x2="475.7" y2="104.5"/><line x1="473.6" y1="110.4" x2="480.6" y2="103.4"/><line x1="476.3" y1="111.6" x2="481.0" y2="106.8"/><line x1="486.8" y1="103.7" x2="491.4" y2="99.1"/><line x1="487.5" y1="106.8" x2="493.8" y2="100.5"/><line x1="490.6" y1="107.6" x2="495.4" y2="102.7"/><line x1="500.9" y1="108.0" x2="504.7" y2="104.3"/><line x1="501.0" y1="111.8" x2="508.6" y2="104.2"/><line x1="504.2" y1="112.4" x2="509.5" y2="107.1"/><line x1="518.6" y1="106.2" x2="522.8" y2="102.0"/><line x1="519.6" y1="109.0" x2="525.4" y2="103.2"/><line x1="522.8" y1="109.6" x2="527.1" y2="105.3"/><line x1="533.3" y1="106.8" x2="537.6" y2="102.5"/><line x1="532.9" y1="111.0" x2="540.5" y2="103.5"/><line x1="534.9" y1="112.9" x2="540.2" y2="107.6"/><line x1="547.5" y1="108.9" x2="552.3" y2="104.2"/><line x1="549.9" y1="110.4" x2="556.4" y2="103.9"/><line x1="552.1" y1="112.0" x2="556.9" y2="107.2"/><line x1="561.5" y1="104.0" x2="566.2" y2="99.4"/><line x1="561.1" y1="108.3" x2="568.8" y2="100.6"/><line x1="564.8" y1="108.4" x2="567.8" y2="105.4"/><line x1="575.0" y1="108.5" x2="579.6" y2="103.8"/><line x1="578.1" y1="109.1" x2="583.2" y2="104.1"/><line x1="579.4" y1="111.6" x2="584.0" y2="107.1"/><line x1="592.8" y1="108.9" x2="596.7" y2="105.0"/><line x1="593.8" y1="111.6" x2="601.6" y2="103.8"/><line x1="596.6" y1="112.7" x2="600.3" y2="109.0"/><line x1="606.6" y1="105.0" x2="610.7" y2="100.9"/><line x1="606.7" y1="108.7" x2="612.1" y2="103.3"/><line x1="611.2" y1="108.0" x2="614.1" y2="105.1"/><line x1="436.5" y1="117.8" x2="440.3" y2="114.0"/><line x1="437.0" y1="121.1" x2="443.4" y2="114.7"/><line x1="439.9" y1="122.0" x2="444.6" y2="117.3"/><line x1="451.1" y1="118.9" x2="454.8" y2="115.2"/><line x1="452.8" y1="121.0" x2="459.8" y2="114.0"/><line x1="455.5" y1="122.1" x2="459.0" y2="118.6"/><line x1="465.2" y1="116.2" x2="468.9" y2="112.5"/><line x1="465.7" y1="119.6" x2="472.3" y2="113.0"/><line x1="468.2" y1="120.8" x2="471.1" y2="117.9"/><line x1="480.5" y1="118.1" x2="484.7" y2="113.8"/><line x1="480.0" y1="122.4" x2="486.0" y2="116.4"/><line x1="482.6" y1="123.6" x2="487.4" y2="118.8"/><line x1="495.2" y1="120.5" x2="498.6" y2="117.1"/><line x1="495.8" y1="123.8" x2="502.0" y2="117.5"/><line x1="498.5" y1="124.9" x2="503.0" y2="120.4"/><line x1="508.3" y1="119.7" x2="511.8" y2="116.2"/><line x1="510.1" y1="121.7" x2="516.1" y2="115.7"/><line x1="512.9" y1="122.8" x2="517.9" y2="117.8"/><line x1="523.4" y1="117.9" x2="528.0" y2="113.4"/><line x1="525.3" y1="119.8" x2="531.0" y2="114.2"/><line x1="527.1" y1="121.8" x2="530.5" y2="118.5"/><line x1="537.9" y1="118.9" x2="542.5" y2="114.3"/><line x1="539.3" y1="121.3" x2="545.5" y2="115.1"/><line x1="542.4" y1="122.0" x2="547.6" y2="116.8"/><line x1="555.8" y1="118.7" x2="559.1" y2="115.4"/><line x1="558.0" y1="120.3" x2="563.3" y2="115.0"/><line x1="560.5" y1="121.7" x2="564.8" y2="117.3"/><line x1="567.7" y1="118.3" x2="572.3" y2="113.8"/><line x1="568.1" y1="121.8" x2="574.8" y2="115.0"/><line x1="571.1" y1="122.5" x2="576.3" y2="117.4"/><line x1="585.8" y1="117.6" x2="589.4" y2="114.1"/><line x1="587.5" y1="119.8" x2="593.6" y2="113.6"/><line x1="588.8" y1="122.2" x2="592.9" y2="118.2"/><line x1="598.2" y1="119.8" x2="602.9" y2="115.1"/><line x1="598.6" y1="123.2" x2="606.3" y2="115.5"/><line x1="600.8" y1="124.8" x2="604.9" y2="120.7"/><line x1="615.1" y1="120.4" x2="619.4" y2="116.2"/><line x1="615.7" y1="123.6" x2="622.1" y2="117.2"/><line x1="618.7" y1="124.5" x2="622.3" y2="120.8"/><line x1="442.6" y1="130.1" x2="447.1" y2="125.6"/><line x1="444.7" y1="131.8" x2="449.8" y2="126.7"/><line x1="446.4" y1="133.9" x2="451.8" y2="128.5"/><line x1="458.8" y1="131.3" x2="461.7" y2="128.4"/><line x1="459.4" y1="134.5" x2="466.5" y2="127.4"/><line x1="462.9" y1="134.8" x2="466.2" y2="131.5"/><line x1="472.4" y1="132.1" x2="476.6" y2="128.0"/><line x1="472.6" y1="135.8" x2="478.6" y2="129.8"/><line x1="476.4" y1="135.8" x2="479.9" y2="132.3"/><line x1="487.1" y1="129.2" x2="491.1" y2="125.3"/><line x1="487.7" y1="132.5" x2="494.9" y2="125.3"/><line x1="491.3" y1="132.7" x2="494.6" y2="129.4"/><line x1="502.8" y1="129.7" x2="507.0" y2="125.5"/><line x1="503.1" y1="133.2" x2="510.5" y2="125.8"/><line x1="507.8" y1="132.4" x2="510.7" y2="129.4"/><line x1="515.8" y1="132.0" x2="520.2" y2="127.5"/><line x1="517.4" y1="134.2" x2="522.4" y2="129.2"/><line x1="520.2" y1="135.2" x2="523.2" y2="132.2"/><line x1="534.1" y1="132.4" x2="537.1" y2="129.4"/><line x1="534.4" y1="135.9" x2="540.8" y2="129.5"/><line x1="538.3" y1="135.9" x2="542.0" y2="132.2"/><line x1="547.9" y1="130.0" x2="551.2" y2="126.8"/><line x1="548.9" y1="132.9" x2="554.7" y2="127.0"/><line x1="551.4" y1="134.2" x2="554.6" y2="131.0"/><line x1="560.3" y1="129.9" x2="564.0" y2="126.2"/><line x1="561.6" y1="132.4" x2="568.3" y2="125.7"/><line x1="564.0" y1="133.9" x2="569.0" y2="128.8"/><line x1="577.3" y1="130.1" x2="581.2" y2="126.2"/><line x1="577.2" y1="134.0" x2="584.1" y2="127.1"/><line x1="580.1" y1="134.9" x2="584.1" y2="130.9"/><line x1="593.5" y1="130.6" x2="596.5" y2="127.6"/><line x1="594.0" y1="133.9" x2="600.1" y2="127.8"/><line x1="595.8" y1="136.0" x2="599.8" y2="131.9"/><line x1="609.7" y1="131.3" x2="613.0" y2="127.9"/><line x1="609.8" y1="135.0" x2="616.1" y2="128.7"/><line x1="613.7" y1="134.8" x2="616.9" y2="131.7"/><line x1="435.8" y1="144.3" x2="440.1" y2="139.9"/><line x1="435.3" y1="148.5" x2="441.9" y2="141.9"/><line x1="439.3" y1="148.4" x2="442.4" y2="145.3"/><line x1="450.5" y1="142.0" x2="453.5" y2="138.9"/><line x1="451.0" y1="145.3" x2="456.2" y2="140.1"/><line x1="454.6" y1="145.5" x2="459.9" y2="140.2"/><line x1="463.1" y1="144.9" x2="467.4" y2="140.7"/><line x1="464.0" y1="147.9" x2="471.3" y2="140.6"/><line x1="465.1" y1="150.5" x2="470.7" y2="145.0"/><line x1="481.4" y1="142.9" x2="485.8" y2="138.5"/><line x1="481.0" y1="147.1" x2="486.3" y2="141.9"/><line x1="483.6" y1="148.3" x2="488.6" y2="143.4"/><line x1="495.4" y1="144.3" x2="498.8" y2="141.0"/><line x1="496.6" y1="147.0" x2="502.0" y2="141.5"/><line x1="498.7" y1="148.7" x2="502.2" y2="145.2"/><line x1="509.3" y1="143.0" x2="512.8" y2="139.4"/><line x1="510.9" y1="145.1" x2="517.0" y2="139.0"/><line x1="513.2" y1="146.7" x2="516.2" y2="143.6"/><line x1="525.5" y1="142.3" x2="529.8" y2="138.1"/><line x1="525.9" y1="145.7" x2="533.0" y2="138.6"/><line x1="529.3" y1="146.1" x2="534.1" y2="141.4"/><line x1="541.7" y1="141.7" x2="544.7" y2="138.6"/><line x1="541.4" y1="145.8" x2="548.5" y2="138.7"/><line x1="544.8" y1="146.3" x2="550.2" y2="140.8"/><line x1="553.1" y1="142.9" x2="556.4" y2="139.6"/><line x1="554.3" y1="145.5" x2="561.0" y2="138.9"/><line x1="558.3" y1="145.4" x2="562.0" y2="141.7"/><line x1="568.4" y1="144.8" x2="572.1" y2="141.1"/><line x1="568.4" y1="148.6" x2="575.8" y2="141.2"/><line x1="571.3" y1="149.5" x2="575.8" y2="145.0"/><line x1="585.5" y1="142.1" x2="588.7" y2="138.9"/><line x1="584.7" y1="146.8" x2="590.6" y2="140.8"/><line x1="589.5" y1="145.8" x2="593.2" y2="142.0"/><line x1="599.7" y1="143.8" x2="603.5" y2="140.0"/><line x1="599.7" y1="147.6" x2="607.0" y2="140.3"/><line x1="603.2" y1="147.9" x2="608.4" y2="142.8"/><line x1="615.3" y1="144.0" x2="619.6" y2="139.6"/><line x1="615.5" y1="147.5" x2="623.2" y2="139.8"/><line x1="620.2" y1="146.6" x2="624.4" y2="142.5"/><line x1="442.0" y1="158.8" x2="446.6" y2="154.1"/><line x1="443.2" y1="161.3" x2="448.9" y2="155.7"/><line x1="447.4" y1="161.0" x2="450.7" y2="157.6"/><line x1="458.7" y1="157.5" x2="462.0" y2="154.2"/><line x1="459.2" y1="160.8" x2="466.6" y2="153.4"/><line x1="461.6" y1="162.2" x2="465.3" y2="158.5"/><line x1="471.1" y1="156.8" x2="474.6" y2="153.3"/><line x1="470.3" y1="161.4" x2="476.3" y2="155.4"/><line x1="473.7" y1="161.8" x2="478.2" y2="157.4"/><line x1="487.0" y1="155.9" x2="490.2" y2="152.6"/><line x1="487.5" y1="159.2" x2="494.1" y2="152.5"/><line x1="489.1" y1="161.4" x2="494.6" y2="155.9"/><line x1="500.8" y1="157.1" x2="503.9" y2="154.1"/><line x1="502.3" y1="159.5" x2="509.8" y2="152.0"/><line x1="504.0" y1="161.5" x2="509.4" y2="156.1"/><line x1="519.1" y1="156.2" x2="522.6" y2="152.7"/><line x1="518.2" y1="161.0" x2="525.0" y2="154.1"/><line x1="522.2" y1="160.7" x2="526.9" y2="156.1"/><line x1="533.6" y1="157.1" x2="537.6" y2="153.1"/><line x1="535.7" y1="158.9" x2="540.9" y2="153.6"/><line x1="538.0" y1="160.3" x2="542.2" y2="156.1"/><line x1="548.1" y1="154.1" x2="552.3" y2="149.9"/><line x1="548.2" y1="157.8" x2="555.0" y2="151.0"/><line x1="550.7" y1="159.1" x2="554.0" y2="155.8"/><line x1="564.2" y1="154.3" x2="567.7" y2="150.8"/><line x1="564.5" y1="157.7" x2="571.5" y2="150.8"/><line x1="567.3" y1="158.8" x2="571.8" y2="154.3"/><line x1="576.9" y1="154.2" x2="579.9" y2="151.2"/><line x1="577.3" y1="157.7" x2="584.2" y2="150.7"/><line x1="579.4" y1="159.4" x2="584.3" y2="154.4"/><line x1="590.3" y1="156.5" x2="595.0" y2="151.8"/><line x1="593.1" y1="157.5" x2="598.2" y2="152.4"/><line x1="594.5" y1="159.9" x2="598.8" y2="155.6"/><line x1="607.2" y1="155.0" x2="611.1" y2="151.0"/><line x1="605.9" y1="160.0" x2="613.1" y2="152.9"/><line x1="609.8" y1="159.9" x2="613.7" y2="156.1"/><line x1="432.1" y1="167.9" x2="436.6" y2="163.5"/><line x1="433.2" y1="170.6" x2="440.2" y2="163.6"/><line x1="437.6" y1="170.0" x2="441.0" y2="166.7"/><line x1="450.2" y1="170.3" x2="454.2" y2="166.2"/><line x1="452.1" y1="172.1" x2="457.5" y2="166.8"/><line x1="454.8" y1="173.2" x2="458.8" y2="169.3"/><line x1="464.0" y1="167.0" x2="468.5" y2="162.5"/><line x1="465.7" y1="169.1" x2="470.8" y2="164.0"/><line x1="466.4" y1="172.2" x2="471.5" y2="167.1"/><line x1="479.3" y1="169.4" x2="483.5" y2="165.3"/><line x1="480.6" y1="171.9" x2="488.3" y2="164.2"/><line x1="483.2" y1="173.2" x2="488.0" y2="168.4"/><line x1="495.6" y1="168.9" x2="498.4" y2="166.1"/><line x1="495.4" y1="172.9" x2="502.5" y2="165.8"/><line x1="498.4" y1="173.8" x2="503.1" y2="169.0"/><line x1="508.8" y1="168.3" x2="511.7" y2="165.4"/><line x1="509.2" y1="171.7" x2="515.6" y2="165.3"/><line x1="512.8" y1="171.9" x2="517.5" y2="167.2"/><line x1="525.6" y1="167.7" x2="530.1" y2="163.2"/><line x1="526.1" y1="171.0" x2="532.9" y2="164.3"/><line x1="529.6" y1="171.3" x2="532.6" y2="168.4"/><line x1="539.2" y1="170.8" x2="542.7" y2="167.3"/><line x1="540.7" y1="173.2" x2="548.1" y2="165.8"/><line x1="543.4" y1="174.3" x2="548.2" y2="169.5"/><line x1="557.0" y1="168.7" x2="561.4" y2="164.3"/><line x1="558.0" y1="171.6" x2="563.9" y2="165.6"/><line x1="559.4" y1="174.0" x2="564.5" y2="168.9"/><line x1="570.5" y1="168.7" x2="573.5" y2="165.6"/><line x1="571.3" y1="171.7" x2="576.3" y2="166.6"/><line x1="574.9" y1="171.9" x2="578.0" y2="168.8"/><line x1="585.5" y1="168.7" x2="589.2" y2="165.0"/><line x1="586.4" y1="171.5" x2="593.2" y2="164.7"/><line x1="589.2" y1="172.6" x2="592.8" y2="168.9"/><line x1="598.2" y1="170.3" x2="602.6" y2="165.9"/><line x1="599.4" y1="172.9" x2="605.4" y2="166.9"/><line x1="601.6" y1="174.5" x2="605.5" y2="170.7"/><line x1="611.7" y1="168.3" x2="616.2" y2="163.8"/><line x1="613.2" y1="170.6" x2="618.6" y2="165.3"/><line x1="615.7" y1="172.0" x2="619.8" y2="167.9"/></g>
<path d="M488.7,106.5 C492,112 494,118 493,124 C492,132 490,139 486,143 C480,148 470,149 462,151.5 C456,153.5 450,155 446.2,156" fill="none" stroke="#141414" stroke-width="1.0" stroke-linejoin="miter"/>
<g clip-path="url(#c17)" stroke="#141414" stroke-width="1.1" stroke-linecap="round"><line x1="595.2" y1="108.4" x2="599.7" y2="103.9"/><line x1="593.7" y1="113.8" x2="601.3" y2="106.2"/><line x1="597.9" y1="113.4" x2="602.8" y2="108.5"/><line x1="610.0" y1="109.6" x2="614.7" y2="104.9"/><line x1="612.2" y1="111.1" x2="617.5" y2="105.9"/><line x1="614.8" y1="112.4" x2="618.9" y2="108.3"/><line x1="621.7" y1="107.4" x2="625.1" y2="104.0"/><line x1="622.9" y1="110.0" x2="630.5" y2="102.5"/><line x1="624.7" y1="112.0" x2="629.7" y2="107.0"/><line x1="639.5" y1="106.6" x2="642.4" y2="103.8"/><line x1="640.8" y1="109.2" x2="648.2" y2="101.8"/><line x1="644.5" y1="109.3" x2="647.9" y2="105.9"/><line x1="586.7" y1="121.5" x2="590.7" y2="117.5"/><line x1="586.6" y1="125.4" x2="593.5" y2="118.5"/><line x1="590.9" y1="125.0" x2="594.3" y2="121.6"/><line x1="602.4" y1="120.5" x2="606.0" y2="116.9"/><line x1="603.9" y1="122.8" x2="609.4" y2="117.4"/><line x1="607.6" y1="123.0" x2="610.8" y2="119.8"/><line x1="614.8" y1="121.1" x2="618.3" y2="117.6"/><line x1="615.2" y1="124.5" x2="621.0" y2="118.7"/><line x1="617.8" y1="125.7" x2="623.0" y2="120.6"/><line x1="632.7" y1="118.5" x2="637.6" y2="113.6"/><line x1="632.8" y1="122.3" x2="637.8" y2="117.2"/><line x1="636.4" y1="122.5" x2="641.3" y2="117.6"/><line x1="647.6" y1="119.4" x2="650.4" y2="116.5"/><line x1="646.8" y1="124.0" x2="651.9" y2="118.9"/><line x1="650.7" y1="123.9" x2="654.1" y2="120.5"/><line x1="596.6" y1="134.1" x2="600.2" y2="130.5"/><line x1="595.9" y1="138.6" x2="601.9" y2="132.6"/><line x1="600.0" y1="138.3" x2="604.3" y2="134.0"/><line x1="610.5" y1="134.3" x2="613.4" y2="131.4"/><line x1="610.6" y1="138.0" x2="618.2" y2="130.4"/><line x1="615.4" y1="137.0" x2="618.5" y2="133.9"/><line x1="622.8" y1="135.5" x2="626.8" y2="131.5"/><line x1="623.5" y1="138.5" x2="629.4" y2="132.7"/><line x1="626.7" y1="139.2" x2="630.4" y2="135.5"/><line x1="640.3" y1="134.6" x2="643.5" y2="131.4"/><line x1="641.0" y1="137.7" x2="646.1" y2="132.6"/><line x1="642.3" y1="140.3" x2="647.9" y2="134.6"/><line x1="588.0" y1="145.9" x2="591.7" y2="142.1"/><line x1="586.8" y1="150.9" x2="593.0" y2="144.7"/><line x1="591.3" y1="150.2" x2="594.3" y2="147.2"/><line x1="603.4" y1="143.7" x2="607.7" y2="139.3"/><line x1="602.2" y1="148.7" x2="609.8" y2="141.0"/><line x1="606.3" y1="148.4" x2="610.9" y2="143.8"/><line x1="616.2" y1="145.9" x2="619.7" y2="142.5"/><line x1="617.0" y1="149.0" x2="623.2" y2="142.8"/><line x1="618.1" y1="151.7" x2="623.7" y2="146.1"/><line x1="630.9" y1="147.2" x2="634.7" y2="143.3"/><line x1="632.3" y1="149.6" x2="638.1" y2="143.8"/><line x1="636.4" y1="149.3" x2="640.4" y2="145.3"/><line x1="648.0" y1="146.5" x2="651.9" y2="142.6"/><line x1="650.0" y1="148.4" x2="655.9" y2="142.5"/><line x1="653.5" y1="148.7" x2="656.6" y2="145.6"/><line x1="593.9" y1="158.9" x2="598.3" y2="154.4"/><line x1="593.7" y1="162.9" x2="600.6" y2="156.0"/><line x1="597.4" y1="163.0" x2="602.1" y2="158.3"/><line x1="608.9" y1="157.3" x2="613.4" y2="152.9"/><line x1="609.0" y1="161.1" x2="615.9" y2="154.2"/><line x1="612.4" y1="161.5" x2="616.0" y2="157.9"/><line x1="623.1" y1="157.3" x2="626.5" y2="153.9"/><line x1="622.9" y1="161.3" x2="629.8" y2="154.5"/><line x1="626.5" y1="161.5" x2="630.7" y2="157.4"/><line x1="639.0" y1="158.1" x2="643.4" y2="153.7"/><line x1="639.5" y1="161.4" x2="646.8" y2="154.1"/><line x1="642.8" y1="162.0" x2="646.6" y2="158.2"/></g>
<circle cx="468.90" cy="123.40" r="14.10" fill="#fff" stroke="#141414" stroke-width="1.75"/>
<circle cx="468.90" cy="123.40" r="11.70" fill="none" stroke="#141414" stroke-width="1.75"/>
<line x1="459.11" y1="129.80" x2="475.30" y2="113.61" stroke="#141414" stroke-width="1.75" stroke-linecap="butt"/>
<line x1="462.50" y1="133.19" x2="478.69" y2="117.00" stroke="#141414" stroke-width="1.75" stroke-linecap="butt"/>
<line x1="468.90" y1="100.00" x2="468.90" y2="147.00" stroke="#141414" stroke-width="1.0" stroke-dasharray="12 2 2 2" stroke-linecap="butt"/>
<line x1="451.00" y1="123.40" x2="487.00" y2="123.40" stroke="#141414" stroke-width="1.0" stroke-dasharray="12 2 2 2" stroke-linecap="butt"/>
<circle cx="615.20" cy="122.30" r="9.50" fill="#fff" stroke="#141414" stroke-width="1.75"/>
<circle cx="615.20" cy="122.30" r="6.50" fill="none" stroke="#141414" stroke-width="1.75"/>
<line x1="609.67" y1="125.71" x2="618.61" y2="116.77" stroke="#141414" stroke-width="1.75" stroke-linecap="butt"/>
<line x1="611.79" y1="127.83" x2="620.73" y2="118.89" stroke="#141414" stroke-width="1.75" stroke-linecap="butt"/>
<g clip-path="url(#c18)" stroke="#141414" stroke-width="0.7"><line x1="595.88" y1="119.71" x2="612.71" y2="102.88"/><line x1="597.44" y1="121.27" x2="614.27" y2="104.44"/><line x1="598.99" y1="122.82" x2="615.82" y2="105.99"/><line x1="600.55" y1="124.38" x2="617.38" y2="107.55"/><line x1="602.10" y1="125.93" x2="618.93" y2="109.10"/><line x1="603.66" y1="127.49" x2="620.49" y2="110.66"/><line x1="605.22" y1="129.04" x2="622.04" y2="112.22"/><line x1="606.77" y1="130.60" x2="623.60" y2="113.77"/><line x1="608.33" y1="132.16" x2="625.16" y2="115.33"/><line x1="609.88" y1="133.71" x2="626.71" y2="116.88"/><line x1="611.44" y1="135.27" x2="628.27" y2="118.44"/><line x1="612.99" y1="136.82" x2="629.82" y2="119.99"/><line x1="614.55" y1="138.38" x2="631.38" y2="121.55"/><line x1="616.11" y1="139.93" x2="632.93" y2="123.11"/><line x1="617.66" y1="141.49" x2="634.49" y2="124.66"/></g>
<rect x="561.00" y="107.60" width="37.60" height="23.40" rx="0" fill="#fff" stroke="#141414" stroke-width="1.75"/>
<rect x="547.20" y="102.00" width="63.80" height="5.60" rx="0" fill="#fff" stroke="#141414" stroke-width="1.75"/>
<rect x="553.20" y="87.70" width="52.60" height="12.30" rx="0" fill="#fff" stroke="#141414" stroke-width="1.75"/>
<ellipse cx="561.90" cy="94.30" rx="2.20" ry="3.40" fill="none" stroke="#141414" stroke-width="1.45"/>
<ellipse cx="579.00" cy="94.30" rx="2.20" ry="3.40" fill="none" stroke="#141414" stroke-width="1.45"/>
<ellipse cx="595.40" cy="94.30" rx="2.20" ry="3.40" fill="none" stroke="#141414" stroke-width="1.45"/>
<rect x="550.50" y="98.80" width="4.50" height="3.20" rx="0" fill="none" stroke="#141414" stroke-width="1.0"/>
<rect x="603.80" y="98.80" width="4.50" height="3.20" rx="0" fill="none" stroke="#141414" stroke-width="1.0"/>
<rect x="568.00" y="129.00" width="4.50" height="6.00" rx="0" fill="#fff" stroke="#141414" stroke-width="1.75"/>
<rect x="585.00" y="129.00" width="4.50" height="6.00" rx="0" fill="#fff" stroke="#141414" stroke-width="1.75"/>
<line x1="561.00" y1="131.00" x2="598.60" y2="131.00" stroke="#141414" stroke-width="1.75" stroke-linecap="butt"/>
<path d="M557.5,87.7 C557.5,84.5 555.5,83.5 553.8,81.5 C549.5,81.5 546,78.8 546,75.1 C546,71.4 549.5,68.8 553.8,68.8 C555.5,67 557.5,66 557.5,63 L557.5,48 C557.5,36 566,27.6 578,27.6 L615.2,27.6" fill="none" stroke="#141414" stroke-width="1.75" stroke-linejoin="miter"/>
<path d="M615.2,59 L608.5,59 C605,59 602.8,61 602.8,64 C602.8,66.5 604,67.5 605.5,68.8 C609.8,68.8 613,71.4 613,75.1 C613,78.8 609.8,81.5 605.5,81.5 C604,83 602.3,84.5 602.3,87.7" fill="none" stroke="#141414" stroke-width="1.75" stroke-linejoin="miter"/>
<circle cx="551.80" cy="75.10" r="2.40" fill="none" stroke="#141414" stroke-width="1.75"/>
<circle cx="607.60" cy="75.10" r="2.40" fill="#555" stroke="#141414" stroke-width="1.75"/>
<line x1="545.00" y1="75.00" x2="563.00" y2="75.00" stroke="#141414" stroke-width="1.0" stroke-linecap="butt"/>
<line x1="598.00" y1="74.80" x2="618.00" y2="74.80" stroke="#141414" stroke-width="1.0" stroke-linecap="butt"/>
<rect x="615.00" y="23.90" width="12.50" height="40.10" rx="0" fill="#fff" stroke="#141414" stroke-width="1.75"/>
<line x1="616.50" y1="28.00" x2="624.00" y2="28.00" stroke="#141414" stroke-width="1.0" stroke-linecap="butt"/>
<line x1="616.50" y1="33.00" x2="624.00" y2="33.00" stroke="#141414" stroke-width="1.0" stroke-linecap="butt"/>
<line x1="616.50" y1="38.50" x2="624.00" y2="38.50" stroke="#141414" stroke-width="1.0" stroke-linecap="butt"/>
<line x1="616.50" y1="44.00" x2="624.00" y2="44.00" stroke="#141414" stroke-width="1.0" stroke-linecap="butt"/>
<line x1="616.50" y1="49.50" x2="624.00" y2="49.50" stroke="#141414" stroke-width="1.0" stroke-linecap="butt"/>
<line x1="616.50" y1="55.00" x2="624.00" y2="55.00" stroke="#141414" stroke-width="1.0" stroke-linecap="butt"/>
<line x1="616.50" y1="60.00" x2="624.00" y2="60.00" stroke="#141414" stroke-width="1.0" stroke-linecap="butt"/>
<rect x="627.50" y="16.30" width="11.30" height="56.50" rx="0" fill="#fff" stroke="#141414" stroke-width="1.75"/>
<line x1="627.50" y1="23.90" x2="638.80" y2="23.90" stroke="#141414" stroke-width="1.0" stroke-linecap="butt"/>
<line x1="627.50" y1="64.00" x2="638.80" y2="64.00" stroke="#141414" stroke-width="1.0" stroke-linecap="butt"/>
<line x1="608.60" y1="44.00" x2="647.60" y2="44.00" stroke="#141414" stroke-width="1.0" stroke-linecap="butt"/>
<line x1="579.30" y1="22.00" x2="579.30" y2="140.00" stroke="#141414" stroke-width="1.0" stroke-dasharray="20 2 2 2" stroke-linecap="butt"/>
<path d="M524,138.6 L616,138.6 Q620.5,138.6 620.5,146 Q620.5,153.4 616,153.4 L524,153.4 Q520,153.4 520,146 Q520,138.6 524,138.6 Z" fill="#fff" stroke="#141414" stroke-width="1.75" stroke-linejoin="miter"/>
<g clip-path="url(#c19)" stroke="#141414" stroke-width="0.7"><line x1="521.29" y1="95.00" x2="615.71" y2="95.00"/><line x1="521.29" y1="96.90" x2="615.71" y2="96.90"/><line x1="521.29" y1="98.80" x2="615.71" y2="98.80"/><line x1="521.29" y1="100.70" x2="615.71" y2="100.70"/><line x1="521.29" y1="102.60" x2="615.71" y2="102.60"/><line x1="521.29" y1="104.50" x2="615.71" y2="104.50"/><line x1="521.29" y1="106.40" x2="615.71" y2="106.40"/><line x1="521.29" y1="108.30" x2="615.71" y2="108.30"/><line x1="521.29" y1="110.20" x2="615.71" y2="110.20"/><line x1="521.29" y1="112.10" x2="615.71" y2="112.10"/><line x1="521.29" y1="114.00" x2="615.71" y2="114.00"/><line x1="521.29" y1="115.90" x2="615.71" y2="115.90"/><line x1="521.29" y1="117.80" x2="615.71" y2="117.80"/><line x1="521.29" y1="119.70" x2="615.71" y2="119.70"/><line x1="521.29" y1="121.60" x2="615.71" y2="121.60"/><line x1="521.29" y1="123.50" x2="615.71" y2="123.50"/><line x1="521.29" y1="125.40" x2="615.71" y2="125.40"/><line x1="521.29" y1="127.30" x2="615.71" y2="127.30"/><line x1="521.29" y1="129.20" x2="615.71" y2="129.20"/><line x1="521.29" y1="131.10" x2="615.71" y2="131.10"/><line x1="521.29" y1="133.00" x2="615.71" y2="133.00"/><line x1="521.29" y1="134.90" x2="615.71" y2="134.90"/><line x1="521.29" y1="136.80" x2="615.71" y2="136.80"/><line x1="521.29" y1="138.70" x2="615.71" y2="138.70"/><line x1="521.29" y1="140.60" x2="615.71" y2="140.60"/><line x1="521.29" y1="142.50" x2="615.71" y2="142.50"/><line x1="521.29" y1="144.40" x2="615.71" y2="144.40"/><line x1="521.29" y1="146.30" x2="615.71" y2="146.30"/><line x1="521.29" y1="148.20" x2="615.71" y2="148.20"/><line x1="521.29" y1="150.10" x2="615.71" y2="150.10"/><line x1="521.29" y1="152.00" x2="615.71" y2="152.00"/><line x1="521.29" y1="153.90" x2="615.71" y2="153.90"/><line x1="521.29" y1="155.80" x2="615.71" y2="155.80"/><line x1="521.29" y1="157.70" x2="615.71" y2="157.70"/><line x1="521.29" y1="159.60" x2="615.71" y2="159.60"/><line x1="521.29" y1="161.50" x2="615.71" y2="161.50"/><line x1="521.29" y1="163.40" x2="615.71" y2="163.40"/><line x1="521.29" y1="165.30" x2="615.71" y2="165.30"/><line x1="521.29" y1="167.20" x2="615.71" y2="167.20"/><line x1="521.29" y1="169.10" x2="615.71" y2="169.10"/><line x1="521.29" y1="171.00" x2="615.71" y2="171.00"/><line x1="521.29" y1="172.90" x2="615.71" y2="172.90"/><line x1="521.29" y1="174.80" x2="615.71" y2="174.80"/><line x1="521.29" y1="176.70" x2="615.71" y2="176.70"/><line x1="521.29" y1="178.60" x2="615.71" y2="178.60"/><line x1="521.29" y1="180.50" x2="615.71" y2="180.50"/><line x1="521.29" y1="182.40" x2="615.71" y2="182.40"/><line x1="521.29" y1="184.30" x2="615.71" y2="184.30"/><line x1="521.29" y1="186.20" x2="615.71" y2="186.20"/><line x1="521.29" y1="188.10" x2="615.71" y2="188.10"/><line x1="521.29" y1="190.00" x2="615.71" y2="190.00"/><line x1="521.29" y1="191.90" x2="615.71" y2="191.90"/><line x1="521.29" y1="193.80" x2="615.71" y2="193.80"/><line x1="521.29" y1="195.70" x2="615.71" y2="195.70"/></g>
<rect x="548.40" y="140.70" width="44.80" height="9.10" rx="4.5" fill="#fff" stroke="#141414" stroke-width="1.75"/>
<line x1="556.00" y1="146.80" x2="586.00" y2="146.80" stroke="#141414" stroke-width="1.0" stroke-linecap="butt"/>
<line x1="525.00" y1="138.60" x2="525.00" y2="153.40" stroke="#141414" stroke-width="1.0" stroke-linecap="butt"/>
<line x1="612.00" y1="138.60" x2="612.00" y2="153.40" stroke="#141414" stroke-width="1.0" stroke-linecap="butt"/>
<g clip-path="url(#c20)" stroke="#141414" stroke-width="1.2"><line x1="398.85" y1="192.29" x2="538.29" y2="52.85"/><line x1="401.96" y1="195.41" x2="541.41" y2="55.96"/><line x1="405.07" y1="198.52" x2="544.52" y2="59.07"/><line x1="408.18" y1="201.63" x2="547.63" y2="62.18"/><line x1="411.29" y1="204.74" x2="550.74" y2="65.29"/><line x1="414.40" y1="207.85" x2="553.85" y2="68.40"/><line x1="417.51" y1="210.96" x2="556.96" y2="71.51"/><line x1="420.63" y1="214.07" x2="560.07" y2="74.63"/><line x1="423.74" y1="217.18" x2="563.18" y2="77.74"/><line x1="426.85" y1="220.30" x2="566.30" y2="80.85"/><line x1="429.96" y1="223.41" x2="569.41" y2="83.96"/><line x1="433.07" y1="226.52" x2="572.52" y2="87.07"/><line x1="436.18" y1="229.63" x2="575.63" y2="90.18"/><line x1="439.29" y1="232.74" x2="578.74" y2="93.29"/><line x1="442.40" y1="235.85" x2="581.85" y2="96.40"/><line x1="445.52" y1="238.96" x2="584.96" y2="99.52"/><line x1="448.63" y1="242.08" x2="588.08" y2="102.63"/><line x1="451.74" y1="245.19" x2="591.19" y2="105.74"/><line x1="454.85" y1="248.30" x2="594.30" y2="108.85"/><line x1="457.96" y1="251.41" x2="597.41" y2="111.96"/><line x1="461.07" y1="254.52" x2="600.52" y2="115.07"/><line x1="464.18" y1="257.63" x2="603.63" y2="118.18"/><line x1="467.29" y1="260.74" x2="606.74" y2="121.29"/><line x1="470.41" y1="263.85" x2="609.85" y2="124.41"/><line x1="473.52" y1="266.97" x2="612.97" y2="127.52"/><line x1="476.63" y1="270.08" x2="616.08" y2="130.63"/><line x1="479.74" y1="273.19" x2="619.19" y2="133.74"/><line x1="482.85" y1="276.30" x2="622.30" y2="136.85"/><line x1="485.96" y1="279.41" x2="625.41" y2="139.96"/><line x1="489.07" y1="282.52" x2="628.52" y2="143.07"/><line x1="492.18" y1="285.63" x2="631.63" y2="146.18"/><line x1="495.30" y1="288.74" x2="634.74" y2="149.30"/><line x1="498.41" y1="291.86" x2="637.86" y2="152.41"/><line x1="501.52" y1="294.97" x2="640.97" y2="155.52"/><line x1="504.63" y1="298.08" x2="644.08" y2="158.63"/><line x1="507.74" y1="301.19" x2="647.19" y2="161.74"/><line x1="510.85" y1="304.30" x2="650.30" y2="164.85"/><line x1="513.96" y1="307.41" x2="653.41" y2="167.96"/><line x1="517.07" y1="310.52" x2="656.52" y2="171.07"/><line x1="520.19" y1="313.63" x2="659.63" y2="174.19"/><line x1="523.30" y1="316.75" x2="662.75" y2="177.30"/><line x1="526.41" y1="319.86" x2="665.86" y2="180.41"/><line x1="529.52" y1="322.97" x2="668.97" y2="183.52"/><line x1="532.63" y1="326.08" x2="672.08" y2="186.63"/><line x1="535.74" y1="329.19" x2="675.19" y2="189.74"/><line x1="538.85" y1="332.30" x2="678.30" y2="192.85"/><line x1="541.96" y1="335.41" x2="681.41" y2="195.96"/><line x1="545.08" y1="338.52" x2="684.52" y2="199.08"/><line x1="548.19" y1="341.64" x2="687.64" y2="202.19"/></g>
<line x1="446.20" y1="200.60" x2="639.00" y2="200.60" stroke="#141414" stroke-width="1.75" stroke-linecap="butt"/>
<line x1="465.60" y1="192.80" x2="634.00" y2="192.80" stroke="#141414" stroke-width="1.75" stroke-linecap="butt"/>
<line x1="446.20" y1="158.40" x2="608.70" y2="158.40" stroke="#141414" stroke-width="1.75" stroke-linecap="butt"/>
<g clip-path="url(#c21)" stroke="#141414" stroke-width="0.9"><line x1="495.01" y1="152.42" x2="560.92" y2="86.51"/><line x1="497.98" y1="155.39" x2="563.89" y2="89.48"/><line x1="500.95" y1="158.36" x2="566.86" y2="92.45"/><line x1="503.92" y1="161.32" x2="569.82" y2="95.42"/><line x1="506.89" y1="164.29" x2="572.79" y2="98.39"/><line x1="509.86" y1="167.26" x2="575.76" y2="101.36"/><line x1="512.83" y1="170.23" x2="578.73" y2="104.33"/><line x1="515.80" y1="173.20" x2="581.70" y2="107.30"/><line x1="518.77" y1="176.17" x2="584.67" y2="110.27"/><line x1="521.74" y1="179.14" x2="587.64" y2="113.24"/><line x1="524.71" y1="182.11" x2="590.61" y2="116.21"/><line x1="527.68" y1="185.08" x2="593.58" y2="119.18"/><line x1="530.65" y1="188.05" x2="596.55" y2="122.15"/><line x1="533.62" y1="191.02" x2="599.52" y2="125.12"/><line x1="536.59" y1="193.99" x2="602.49" y2="128.09"/><line x1="539.56" y1="196.96" x2="605.46" y2="131.06"/><line x1="542.53" y1="199.93" x2="608.43" y2="134.03"/><line x1="545.50" y1="202.90" x2="611.40" y2="137.00"/><line x1="548.47" y1="205.87" x2="614.37" y2="139.97"/><line x1="551.44" y1="208.84" x2="617.34" y2="142.94"/><line x1="554.41" y1="211.81" x2="620.31" y2="145.91"/><line x1="557.38" y1="214.78" x2="623.28" y2="148.88"/><line x1="560.35" y1="217.75" x2="626.25" y2="151.85"/><line x1="563.32" y1="220.72" x2="629.22" y2="154.82"/><line x1="566.29" y1="223.69" x2="632.19" y2="157.79"/><line x1="569.26" y1="226.66" x2="635.16" y2="160.76"/></g>
<rect x="440.30" y="152.00" width="5.70" height="47.00" rx="0" fill="#fff" stroke="#141414" stroke-width="1.75"/>
<line x1="440.30" y1="163.00" x2="446.00" y2="163.00" stroke="#141414" stroke-width="1.0" stroke-linecap="butt"/>
<line x1="440.30" y1="187.00" x2="446.00" y2="187.00" stroke="#141414" stroke-width="1.0" stroke-linecap="butt"/>
<rect x="446.00" y="158.40" width="19.60" height="34.40" rx="0" fill="#fff" stroke="#141414" stroke-width="1.75"/>
<line x1="452.00" y1="158.40" x2="452.00" y2="192.80" stroke="#141414" stroke-width="1.0" stroke-linecap="butt"/>
<rect x="446.80" y="153.50" width="5.00" height="5.50" rx="0" fill="#141414" stroke="none"/>
<rect x="446.80" y="192.50" width="5.00" height="5.50" rx="0" fill="#141414" stroke="none"/>
<g clip-path="url(#c22)" stroke="#141414" stroke-width="1.3"><line x1="445.51" y1="160.34" x2="503.34" y2="102.51"/><line x1="448.06" y1="162.88" x2="505.88" y2="105.06"/><line x1="450.60" y1="165.43" x2="508.43" y2="107.60"/><line x1="453.15" y1="167.98" x2="510.98" y2="110.15"/><line x1="455.69" y1="170.52" x2="513.52" y2="112.69"/><line x1="458.24" y1="173.07" x2="516.07" y2="115.24"/><line x1="460.78" y1="175.61" x2="518.61" y2="117.78"/><line x1="463.33" y1="178.16" x2="521.16" y2="120.33"/><line x1="465.88" y1="180.70" x2="523.70" y2="122.88"/><line x1="468.42" y1="183.25" x2="526.25" y2="125.42"/><line x1="470.97" y1="185.79" x2="528.79" y2="127.97"/><line x1="473.51" y1="188.34" x2="531.34" y2="130.51"/><line x1="476.06" y1="190.89" x2="533.89" y2="133.06"/><line x1="478.60" y1="193.43" x2="536.43" y2="135.60"/><line x1="481.15" y1="195.98" x2="538.98" y2="138.15"/><line x1="483.69" y1="198.52" x2="541.52" y2="140.69"/><line x1="486.24" y1="201.07" x2="544.07" y2="143.24"/><line x1="488.79" y1="203.61" x2="546.61" y2="145.79"/><line x1="491.33" y1="206.16" x2="549.16" y2="148.33"/><line x1="493.88" y1="208.70" x2="551.70" y2="150.88"/><line x1="496.42" y1="211.25" x2="554.25" y2="153.42"/><line x1="498.97" y1="213.80" x2="556.80" y2="155.97"/><line x1="501.51" y1="216.34" x2="559.34" y2="158.51"/><line x1="504.06" y1="218.89" x2="561.89" y2="161.06"/><line x1="506.60" y1="221.43" x2="564.43" y2="163.60"/><line x1="509.15" y1="223.98" x2="566.98" y2="166.15"/><line x1="511.70" y1="226.52" x2="569.52" y2="168.70"/></g>
<path d="M469,159.3 L546,159.3 L546,164.6 L532,164.6 L532,164.4 L509.2,164.4 L509.2,169.5 L469,169.5 Z" fill="none" stroke="#141414" stroke-width="1.75" stroke-linejoin="miter"/>
<g clip-path="url(#c23)" stroke="#141414" stroke-width="1.3"><line x1="444.89" y1="181.32" x2="502.82" y2="123.39"/><line x1="447.44" y1="183.87" x2="505.37" y2="125.94"/><line x1="449.98" y1="186.41" x2="507.91" y2="128.48"/><line x1="452.53" y1="188.96" x2="510.46" y2="131.03"/><line x1="455.07" y1="191.51" x2="513.01" y2="133.57"/><line x1="457.62" y1="194.05" x2="515.55" y2="136.12"/><line x1="460.16" y1="196.60" x2="518.10" y2="138.66"/><line x1="462.71" y1="199.14" x2="520.64" y2="141.21"/><line x1="465.26" y1="201.69" x2="523.19" y2="143.76"/><line x1="467.80" y1="204.23" x2="525.73" y2="146.30"/><line x1="470.35" y1="206.78" x2="528.28" y2="148.85"/><line x1="472.89" y1="209.32" x2="530.82" y2="151.39"/><line x1="475.44" y1="211.87" x2="533.37" y2="153.94"/><line x1="477.98" y1="214.42" x2="535.92" y2="156.48"/><line x1="480.53" y1="216.96" x2="538.46" y2="159.03"/><line x1="483.07" y1="219.51" x2="541.01" y2="161.57"/><line x1="485.62" y1="222.05" x2="543.55" y2="164.12"/><line x1="488.17" y1="224.60" x2="546.10" y2="166.67"/><line x1="490.71" y1="227.14" x2="548.64" y2="169.21"/><line x1="493.26" y1="229.69" x2="551.19" y2="171.76"/><line x1="495.80" y1="232.24" x2="553.74" y2="174.30"/><line x1="498.35" y1="234.78" x2="556.28" y2="176.85"/><line x1="500.89" y1="237.33" x2="558.83" y2="179.39"/><line x1="503.44" y1="239.87" x2="561.37" y2="181.94"/><line x1="505.98" y1="242.42" x2="563.92" y2="184.48"/><line x1="508.53" y1="244.96" x2="566.46" y2="187.03"/><line x1="511.08" y1="247.51" x2="569.01" y2="189.58"/></g>
<path d="M469,180 L509.2,180 L509.2,186.5 L532,186.5 L532,186.3 L546,186.3 L546,191.6 L469,191.6 Z" fill="none" stroke="#141414" stroke-width="1.75" stroke-linejoin="miter"/>
<line x1="469.00" y1="159.60" x2="469.00" y2="191.60" stroke="#141414" stroke-width="1.75" stroke-linecap="butt"/>
<circle cx="481.70" cy="174.80" r="4.30" fill="none" stroke="#141414" stroke-width="1.75"/>
<line x1="481.70" y1="169.00" x2="481.70" y2="181.00" stroke="#141414" stroke-width="1.0" stroke-linecap="butt"/>
<path d="M498,166 C503,168 506,171 506.5,175 C506,179 503,182 498,184.5" fill="none" stroke="#141414" stroke-width="1.75" stroke-linejoin="miter"/>
<path d="M496.5,168.5 L505.5,188" fill="none" stroke="#141414" stroke-width="4" stroke-linejoin="miter"/>
<path d="M499.5,168 L507,185" fill="none" stroke="#141414" stroke-width="1.75" stroke-linejoin="miter"/>
<circle cx="502.50" cy="166.50" r="3.00" fill="#141414" stroke="none"/>
<rect x="509.20" y="164.40" width="22.80" height="22.10" rx="0" fill="#fff" stroke="#141414" stroke-width="1.75"/>
<line x1="509.20" y1="168.30" x2="532.00" y2="168.30" stroke="#141414" stroke-width="1.0" stroke-linecap="butt"/>
<line x1="509.20" y1="182.60" x2="532.00" y2="182.60" stroke="#141414" stroke-width="1.0" stroke-linecap="butt"/>
<line x1="510.00" y1="166.40" x2="531.00" y2="166.40" stroke="#141414" stroke-width="1.6" stroke-dasharray="1.6 1.6" stroke-linecap="butt"/>
<line x1="510.00" y1="184.60" x2="531.00" y2="184.60" stroke="#141414" stroke-width="1.6" stroke-dasharray="1.6 1.6" stroke-linecap="butt"/>
<line x1="511.00" y1="169.50" x2="530.00" y2="181.50" stroke="#141414" stroke-width="1.75" stroke-linecap="butt"/>
<line x1="511.00" y1="181.50" x2="530.00" y2="169.50" stroke="#141414" stroke-width="1.75" stroke-linecap="butt"/>
<line x1="511.00" y1="169.50" x2="511.00" y2="181.50" stroke="#141414" stroke-width="1.0" stroke-linecap="butt"/>
<line x1="530.00" y1="169.50" x2="530.00" y2="181.50" stroke="#141414" stroke-width="1.0" stroke-linecap="butt"/>
<rect x="532.00" y="165.30" width="14.00" height="20.70" rx="0" fill="#fff" stroke="#141414" stroke-width="1.75"/>
<path d="M547.50,186.00 L551.00,164.00 L558.70,187.50 L564.00,164.00 L571.70,187.50 L577.70,163.60 L584.60,187.70 L590.60,163.60 L598.30,187.70 L604.40,163.60 L611.50,187.00" fill="none" stroke="#141414" stroke-width="1.95" stroke-linejoin="round"/>
<circle cx="590.00" cy="175.50" r="3.20" fill="none" stroke="#141414" stroke-width="1.75"/>
<rect x="608.70" y="157.50" width="25.00" height="38.00" rx="0" fill="none" stroke="#141414" stroke-width="1.75"/>
<line x1="613.80" y1="157.50" x2="613.80" y2="195.40" stroke="#141414" stroke-width="1.0" stroke-linecap="butt"/>
<line x1="618.00" y1="157.50" x2="618.00" y2="195.40" stroke="#141414" stroke-width="1.0" stroke-linecap="butt"/>
<rect x="634.00" y="152.50" width="5.00" height="5.50" rx="0" fill="#141414" stroke="none"/>
<rect x="634.00" y="193.00" width="5.00" height="5.50" rx="0" fill="#141414" stroke="none"/>
<rect x="639.00" y="155.50" width="4.50" height="41.00" rx="0" fill="none" stroke="#141414" stroke-width="1.75"/>
<line x1="436.00" y1="175.10" x2="656.00" y2="175.10" stroke="#141414" stroke-width="1.0" stroke-dasharray="18 2 2 2" stroke-linecap="butt"/>
<rect x="651.00" y="120.00" width="4.90" height="43.30" rx="0" fill="none" stroke="#141414" stroke-width="1.75"/>
<line x1="643.00" y1="141.00" x2="660.00" y2="141.00" stroke="#141414" stroke-width="1.0" stroke-linecap="butt"/>
<g clip-path="url(#c24)" stroke="#141414" stroke-width="1.2"><line x1="431.64" y1="196.83" x2="456.83" y2="171.64"/><line x1="434.75" y1="199.94" x2="459.94" y2="174.75"/><line x1="437.87" y1="203.06" x2="463.06" y2="177.87"/><line x1="440.98" y1="206.17" x2="466.17" y2="180.98"/><line x1="444.09" y1="209.28" x2="469.28" y2="184.09"/><line x1="447.20" y1="212.39" x2="472.39" y2="187.20"/><line x1="450.31" y1="215.50" x2="475.50" y2="190.31"/><line x1="453.42" y1="218.61" x2="478.61" y2="193.42"/><line x1="456.53" y1="221.72" x2="481.72" y2="196.53"/><line x1="459.65" y1="224.83" x2="484.83" y2="199.65"/><line x1="462.76" y1="227.95" x2="487.95" y2="202.76"/><line x1="465.87" y1="231.06" x2="491.06" y2="205.87"/></g>
<g clip-path="url(#c25)" stroke="#141414" stroke-width="1.2"><line x1="590.18" y1="193.86" x2="616.86" y2="167.18"/><line x1="593.29" y1="196.97" x2="619.97" y2="170.29"/><line x1="596.40" y1="200.08" x2="623.08" y2="173.40"/><line x1="599.51" y1="203.19" x2="626.19" y2="176.51"/><line x1="602.62" y1="206.31" x2="629.31" y2="179.62"/><line x1="605.74" y1="209.42" x2="632.42" y2="182.74"/><line x1="608.85" y1="212.53" x2="635.53" y2="185.85"/><line x1="611.96" y1="215.64" x2="638.64" y2="188.96"/><line x1="615.07" y1="218.75" x2="641.75" y2="192.07"/><line x1="618.18" y1="221.86" x2="644.86" y2="195.18"/><line x1="621.29" y1="224.97" x2="647.97" y2="198.29"/><line x1="624.40" y1="228.09" x2="651.09" y2="201.40"/><line x1="627.51" y1="231.20" x2="654.20" y2="204.51"/></g>
<g clip-path="url(#c26)">
<circle cx="468.20" cy="210.00" r="12.90" fill="none" stroke="#141414" stroke-width="1.75"/>
<circle cx="468.20" cy="210.00" r="9.90" fill="none" stroke="#141414" stroke-width="1.75"/>
</g>
<g clip-path="url(#c27)" stroke="#141414" stroke-width="1.3"><line x1="433.55" y1="203.98" x2="462.18" y2="175.35"/><line x1="436.80" y1="207.23" x2="465.43" y2="178.60"/><line x1="440.05" y1="210.48" x2="468.68" y2="181.85"/><line x1="443.31" y1="213.74" x2="471.94" y2="185.11"/><line x1="446.56" y1="216.99" x2="475.19" y2="188.36"/><line x1="449.81" y1="220.24" x2="478.44" y2="191.61"/><line x1="453.07" y1="223.49" x2="481.69" y2="194.87"/><line x1="456.32" y1="226.75" x2="484.95" y2="198.12"/><line x1="459.57" y1="230.00" x2="488.20" y2="201.37"/><line x1="462.82" y1="233.25" x2="491.45" y2="204.62"/><line x1="466.08" y1="236.50" x2="494.70" y2="207.88"/><line x1="469.33" y1="239.76" x2="497.96" y2="211.13"/><line x1="472.58" y1="243.01" x2="501.21" y2="214.38"/></g>
<circle cx="468.20" cy="210.00" r="9.90" fill="none" stroke="none"/>
<line x1="468.20" y1="218.90" x2="468.20" y2="236.90" stroke="#141414" stroke-width="1.0" stroke-linecap="butt"/>
<line x1="477.10" y1="210.00" x2="488.10" y2="210.00" stroke="#141414" stroke-width="1.0" stroke-linecap="butt"/>
<g clip-path="url(#c28)">
<circle cx="614.70" cy="208.30" r="13.50" fill="none" stroke="#141414" stroke-width="1.75"/>
<circle cx="614.70" cy="208.30" r="10.50" fill="none" stroke="#141414" stroke-width="1.75"/>
</g>
<g clip-path="url(#c29)" stroke="#141414" stroke-width="1.3"><line x1="578.61" y1="202.04" x2="608.44" y2="172.21"/><line x1="581.86" y1="205.29" x2="611.69" y2="175.46"/><line x1="585.11" y1="208.54" x2="614.94" y2="178.71"/><line x1="588.37" y1="211.80" x2="618.20" y2="181.97"/><line x1="591.62" y1="215.05" x2="621.45" y2="185.22"/><line x1="594.87" y1="218.30" x2="624.70" y2="188.47"/><line x1="598.12" y1="221.55" x2="627.95" y2="191.72"/><line x1="601.38" y1="224.81" x2="631.21" y2="194.98"/><line x1="604.63" y1="228.06" x2="634.46" y2="198.23"/><line x1="607.88" y1="231.31" x2="637.71" y2="201.48"/><line x1="611.14" y1="234.56" x2="640.96" y2="204.74"/><line x1="614.39" y1="237.82" x2="644.22" y2="207.99"/><line x1="617.64" y1="241.07" x2="647.47" y2="211.24"/><line x1="620.89" y1="244.32" x2="650.72" y2="214.49"/></g>
<circle cx="614.70" cy="208.30" r="10.50" fill="none" stroke="none"/>
<line x1="614.70" y1="217.80" x2="614.70" y2="235.80" stroke="#141414" stroke-width="1.0" stroke-linecap="butt"/>
<line x1="624.20" y1="208.30" x2="635.20" y2="208.30" stroke="#141414" stroke-width="1.0" stroke-linecap="butt"/>
<line x1="500.20" y1="200.60" x2="500.20" y2="225.00" stroke="#141414" stroke-width="1.0" stroke-linecap="butt"/>
<line x1="503.60" y1="200.60" x2="503.60" y2="225.00" stroke="#141414" stroke-width="1.0" stroke-linecap="butt"/>
<line x1="509.60" y1="200.60" x2="509.60" y2="225.00" stroke="#141414" stroke-width="1.0" stroke-linecap="butt"/>
<line x1="555.30" y1="200.60" x2="555.30" y2="225.00" stroke="#141414" stroke-width="1.0" stroke-linecap="butt"/>
<line x1="560.50" y1="200.60" x2="560.50" y2="225.00" stroke="#141414" stroke-width="1.0" stroke-linecap="butt"/>
<line x1="565.00" y1="200.60" x2="565.00" y2="225.00" stroke="#141414" stroke-width="1.0" stroke-linecap="butt"/>
<text transform="translate(427.00 250.30) scale(0.72 1)" font-family='"Liberation Sans", sans-serif' font-size="15" font-style="italic" font-weight="normal" text-anchor="start" fill="#141414" stroke="#141414" stroke-width="0.35" letter-spacing="0">10</text>
<line x1="454.50" y1="207.50" x2="436.40" y2="237.60" stroke="#141414" stroke-width="1.3" stroke-linecap="butt"/>
<text transform="translate(475.00 52.00) scale(0.72 1)" font-family='"Liberation Sans", sans-serif' font-size="15" font-style="italic" font-weight="normal" text-anchor="start" fill="#141414" stroke="#141414" stroke-width="0.35" letter-spacing="0">11</text>
<line x1="482.00" y1="57.00" x2="514.00" y2="170.00" stroke="#141414" stroke-width="1.3" stroke-linecap="butt"/>
<text transform="translate(499.50 52.00) scale(0.72 1)" font-family='"Liberation Sans", sans-serif' font-size="15" font-style="italic" font-weight="normal" text-anchor="start" fill="#141414" stroke="#141414" stroke-width="0.35" letter-spacing="0">12</text>
<line x1="506.00" y1="57.00" x2="520.00" y2="165.00" stroke="#141414" stroke-width="1.3" stroke-linecap="butt"/>
<text transform="translate(515.50 52.00) scale(0.72 1)" font-family='"Liberation Sans", sans-serif' font-size="15" font-style="italic" font-weight="normal" text-anchor="start" fill="#141414" stroke="#141414" stroke-width="0.35" letter-spacing="0">13</text>
<line x1="521.00" y1="57.00" x2="567.00" y2="145.00" stroke="#141414" stroke-width="1.3" stroke-linecap="butt"/>
<text transform="translate(529.00 32.50) scale(0.72 1)" font-family='"Liberation Sans", sans-serif' font-size="15" font-style="italic" font-weight="normal" text-anchor="start" fill="#141414" stroke="#141414" stroke-width="0.35" letter-spacing="0">14</text>
<line x1="544.60" y1="31.40" x2="567.20" y2="51.50" stroke="#141414" stroke-width="1.3" stroke-linecap="butt"/>
<text transform="translate(646.00 248.80) scale(0.72 1)" font-family='"Liberation Sans", sans-serif' font-size="15" font-style="italic" font-weight="normal" text-anchor="start" fill="#141414" stroke="#141414" stroke-width="0.35" letter-spacing="0">15</text>
<line x1="643.80" y1="242.80" x2="617.40" y2="215.00" stroke="#141414" stroke-width="1.3" stroke-linecap="butt"/>
<text transform="translate(646.00 278.80) scale(0.72 1)" font-family='"Liberation Sans", sans-serif' font-size="15" font-style="italic" font-weight="normal" text-anchor="start" fill="#141414" stroke="#141414" stroke-width="0.35" letter-spacing="0">16</text>
<line x1="645.00" y1="270.40" x2="566.00" y2="187.60" stroke="#141414" stroke-width="1.3" stroke-linecap="butt"/>
<line x1="411.00" y1="83.50" x2="459.00" y2="83.80" stroke="#141414" stroke-width="1.0" stroke-linecap="butt"/>
<line x1="410.00" y1="394.10" x2="462.00" y2="394.30" stroke="#141414" stroke-width="1.0" stroke-linecap="butt"/>
<line x1="416.70" y1="83.80" x2="416.70" y2="394.10" stroke="#141414" stroke-width="1.1" stroke-linecap="butt"/>
<path d="M416.70,394.10 L414.70,381.60 L418.70,381.60 Z" fill="#141414"/>
<path d="M416.70,83.80 L418.70,96.30 L414.70,96.30 Z" fill="#141414"/>
<text transform="translate(412.50 236.00) rotate(-90)" font-family='"Liberation Sans", sans-serif' font-size="12.5" font-style="italic" font-weight="normal" text-anchor="start" fill="#141414" stroke="#141414" stroke-width="0.35" letter-spacing="0">H</text>
<text transform="translate(414.50 226.50) rotate(-90)" font-family='"Liberation Sans", sans-serif' font-size="8.5" font-style="italic" font-weight="normal" text-anchor="start" fill="#141414" stroke="#141414" stroke-width="0.35" letter-spacing="0">1</text>
<line x1="638.80" y1="16.30" x2="671.00" y2="16.50" stroke="#141414" stroke-width="1.0" stroke-linecap="butt"/>
<line x1="623.00" y1="395.20" x2="669.00" y2="395.50" stroke="#141414" stroke-width="1.0" stroke-linecap="butt"/>
<line x1="663.00" y1="16.40" x2="663.00" y2="395.40" stroke="#141414" stroke-width="1.2" stroke-linecap="butt"/>
<path d="M663.00,395.40 L661.00,382.90 L665.00,382.90 Z" fill="#141414"/>
<path d="M663.00,16.40 L665.00,28.90 L661.00,28.90 Z" fill="#141414"/>
<text transform="translate(659.00 324.00) rotate(-90)" font-family='"Liberation Sans", sans-serif' font-size="14" font-style="italic" font-weight="normal" text-anchor="start" fill="#141414" stroke="#141414" stroke-width="0.35" letter-spacing="0">H</text>
<text x="18.50" y="119.50" font-family='"Liberation Sans", sans-serif' font-size="14" font-style="italic" font-weight="normal" text-anchor="start" fill="#141414" stroke="#141414" stroke-width="0.35" letter-spacing="0">1</text>
<line x1="28.90" y1="115.00" x2="57.70" y2="124.80" stroke="#141414" stroke-width="1.3" stroke-linecap="butt"/>
<text x="96.00" y="66.50" font-family='"Liberation Sans", sans-serif' font-size="14" font-style="italic" font-weight="normal" text-anchor="start" fill="#141414" stroke="#141414" stroke-width="0.35" letter-spacing="0">2</text>
<line x1="101.70" y1="71.60" x2="124.30" y2="118.00" stroke="#141414" stroke-width="1.3" stroke-linecap="butt"/>
<text x="114.00" y="66.50" font-family='"Liberation Sans", sans-serif' font-size="14" font-style="italic" font-weight="normal" text-anchor="start" fill="#141414" stroke="#141414" stroke-width="0.35" letter-spacing="0">3</text>
<line x1="119.30" y1="71.60" x2="162.70" y2="153.00" stroke="#141414" stroke-width="1.3" stroke-linecap="butt"/>
<text x="147.50" y="67.50" font-family='"Liberation Sans", sans-serif' font-size="14" font-style="italic" font-weight="normal" text-anchor="start" fill="#141414" stroke="#141414" stroke-width="0.35" letter-spacing="0">4</text>
<line x1="153.00" y1="71.60" x2="185.00" y2="131.70" stroke="#141414" stroke-width="1.3" stroke-linecap="butt"/>
<text x="266.00" y="67.50" font-family='"Liberation Sans", sans-serif' font-size="14" font-style="italic" font-weight="normal" text-anchor="start" fill="#141414" stroke="#141414" stroke-width="0.35" letter-spacing="0">5</text>
<line x1="264.00" y1="71.60" x2="221.40" y2="115.50" stroke="#141414" stroke-width="1.3" stroke-linecap="butt"/>
<text x="331.50" y="72.50" font-family='"Liberation Sans", sans-serif' font-size="14" font-style="italic" font-weight="normal" text-anchor="start" fill="#141414" stroke="#141414" stroke-width="0.35" letter-spacing="0">6</text>
<line x1="333.00" y1="75.30" x2="293.00" y2="109.00" stroke="#141414" stroke-width="1.3" stroke-linecap="butt"/>
<text x="344.00" y="93.50" font-family='"Liberation Sans", sans-serif' font-size="14" font-style="italic" font-weight="normal" text-anchor="start" fill="#141414" stroke="#141414" stroke-width="0.35" letter-spacing="0">7</text>
<line x1="343.30" y1="91.20" x2="263.20" y2="131.70" stroke="#141414" stroke-width="1.3" stroke-linecap="butt"/>
<text x="355.50" y="116.60" font-family='"Liberation Serif", serif' font-size="14" font-style="italic" font-weight="normal" text-anchor="start" fill="#141414" stroke="#141414" stroke-width="0.35" letter-spacing="0">I</text>
<line x1="351.00" y1="114.60" x2="308.00" y2="150.00" stroke="#141414" stroke-width="1.3" stroke-linecap="butt"/>
<text x="346.50" y="268.00" font-family='"Liberation Sans", sans-serif' font-size="12.5" font-style="italic" font-weight="normal" text-anchor="start" fill="#141414" stroke="#141414" stroke-width="0.35" letter-spacing="0">8</text>
<line x1="342.40" y1="264.40" x2="260.00" y2="142.00" stroke="#141414" stroke-width="1.3" stroke-linecap="butt"/>
<line x1="342.40" y1="264.40" x2="263.00" y2="366.00" stroke="#141414" stroke-width="1.3" stroke-linecap="butt"/>
<text x="327.50" y="419.00" font-family='"Liberation Sans", sans-serif' font-size="14" font-style="italic" font-weight="normal" text-anchor="start" fill="#141414" stroke="#141414" stroke-width="0.35" letter-spacing="0">9</text>
<line x1="325.60" y1="410.00" x2="250.00" y2="380.00" stroke="#141414" stroke-width="1.3" stroke-linecap="butt"/>
<text x="239.50" y="408.00" font-family='"Liberation Serif", serif' font-size="12.5" font-style="italic" font-weight="normal" text-anchor="start" fill="#141414" stroke="#141414" stroke-width="0.35" letter-spacing="0">II</text>
<line x1="222.40" y1="385.20" x2="237.00" y2="401.60" stroke="#141414" stroke-width="1.3" stroke-linecap="butt"/>
<text x="208.00" y="61.50" font-family='"Liberation Sans", sans-serif' font-size="13.5" font-style="italic" font-weight="normal" text-anchor="start" fill="#141414" stroke="#141414" stroke-width="0.35" letter-spacing="0">А-А</text>
<line x1="203.90" y1="64.00" x2="237.00" y2="64.00" stroke="#141414" stroke-width="1.3" stroke-linecap="butt"/>
<line x1="123.30" y1="392.00" x2="123.30" y2="419.00" stroke="#141414" stroke-width="1.0" stroke-linecap="butt"/>
<line x1="305.40" y1="392.00" x2="305.40" y2="419.00" stroke="#141414" stroke-width="1.0" stroke-linecap="butt"/>
<line x1="123.30" y1="414.30" x2="305.40" y2="414.30" stroke="#141414" stroke-width="1.25" stroke-linecap="butt"/>
<path d="M305.40,414.30 L292.90,416.30 L292.90,412.30 Z" fill="#141414"/>
<path d="M123.30,414.30 L135.80,412.30 L135.80,416.30 Z" fill="#141414"/>
<text x="212.50" y="411.00" font-family='"Liberation Sans", sans-serif' font-size="12" font-style="italic" font-weight="normal" text-anchor="start" fill="#141414" stroke="#141414" stroke-width="0.35" letter-spacing="0">D</text>
<text x="221.50" y="412.50" font-family='"Liberation Sans", sans-serif' font-size="8" font-style="italic" font-weight="normal" text-anchor="start" fill="#141414" stroke="#141414" stroke-width="0.35" letter-spacing="0">1</text>
<line x1="127.00" y1="430.30" x2="303.00" y2="430.30" stroke="#141414" stroke-width="1.25" stroke-linecap="butt"/>
<path d="M303.00,430.30 L290.50,432.30 L290.50,428.30 Z" fill="#141414"/>
<path d="M127.00,430.30 L139.50,428.30 L139.50,432.30 Z" fill="#141414"/>
<text x="211.00" y="427.50" font-family='"Liberation Sans", sans-serif' font-size="14" font-style="italic" font-weight="normal" text-anchor="start" fill="#141414" stroke="#141414" stroke-width="0.35" letter-spacing="0">в</text>
<line x1="300.00" y1="161.50" x2="377.00" y2="161.50" stroke="#141414" stroke-width="1.0" stroke-linecap="butt"/>
<line x1="316.50" y1="138.70" x2="345.00" y2="138.70" stroke="#141414" stroke-width="1.0" stroke-linecap="butt"/>
<line x1="316.50" y1="184.90" x2="345.00" y2="184.90" stroke="#141414" stroke-width="1.0" stroke-linecap="butt"/>
<line x1="337.20" y1="138.70" x2="337.20" y2="184.90" stroke="#141414" stroke-width="1.25" stroke-linecap="butt"/>
<path d="M337.20,184.90 L335.20,173.90 L339.20,173.90 Z" fill="#141414"/>
<path d="M337.20,138.70 L339.20,149.70 L335.20,149.70 Z" fill="#141414"/>
<line x1="323.50" y1="126.70" x2="358.00" y2="126.70" stroke="#141414" stroke-width="1.0" stroke-linecap="butt"/>
<line x1="323.50" y1="200.40" x2="358.00" y2="200.40" stroke="#141414" stroke-width="1.0" stroke-linecap="butt"/>
<line x1="351.80" y1="126.70" x2="351.80" y2="200.40" stroke="#141414" stroke-width="1.25" stroke-linecap="butt"/>
<path d="M351.80,200.40 L349.80,188.40 L353.80,188.40 Z" fill="#141414"/>
<path d="M351.80,126.70 L353.80,138.70 L349.80,138.70 Z" fill="#141414"/>
<text transform="translate(333.50 167.80) rotate(-90)" font-family='"Liberation Sans", sans-serif' font-size="10" font-style="italic" font-weight="normal" text-anchor="start" fill="#141414" stroke="#141414" stroke-width="0.35" letter-spacing="0">Dy</text>
<text transform="translate(348.60 167.80) rotate(-90)" font-family='"Liberation Sans", sans-serif' font-size="10" font-style="italic" font-weight="normal" text-anchor="start" fill="#141414" stroke="#141414" stroke-width="0.35" letter-spacing="0">D</text>
<line x1="358.70" y1="150.40" x2="392.00" y2="150.40" stroke="#141414" stroke-width="1.75" stroke-linecap="butt"/>
<path d="M358.70,150.40 L369.70,148.20 L369.70,152.60 Z" fill="#141414"/>
<text x="374.00" y="146.00" font-family='"Liberation Sans", sans-serif' font-size="13" font-style="italic" font-weight="normal" text-anchor="start" fill="#141414" stroke="#141414" stroke-width="0.35" letter-spacing="0">M</text>
<line x1="323.50" y1="221.80" x2="379.00" y2="222.80" stroke="#141414" stroke-width="1.0" stroke-linecap="butt"/>
<line x1="305.40" y1="392.00" x2="379.00" y2="392.30" stroke="#141414" stroke-width="1.0" stroke-linecap="butt"/>
<line x1="370.70" y1="161.50" x2="370.70" y2="222.70" stroke="#141414" stroke-width="1.25" stroke-linecap="butt"/>
<path d="M370.70,222.70 L368.70,210.20 L372.70,210.20 Z" fill="#141414"/>
<path d="M370.70,161.50 L372.70,174.00 L368.70,174.00 Z" fill="#141414"/>
<line x1="370.70" y1="222.70" x2="370.70" y2="392.20" stroke="#141414" stroke-width="1.25" stroke-linecap="butt"/>
<path d="M370.70,392.20 L368.70,379.70 L372.70,379.70 Z" fill="#141414"/>
<path d="M370.70,222.70 L372.70,235.20 L368.70,235.20 Z" fill="#141414"/>
<text transform="translate(366.50 199.00) rotate(-90)" font-family='"Liberation Sans", sans-serif' font-size="12" font-style="italic" font-weight="normal" text-anchor="start" fill="#141414" stroke="#141414" stroke-width="0.35" letter-spacing="0">h</text>
<text transform="translate(368.50 191.50) rotate(-90)" font-family='"Liberation Sans", sans-serif' font-size="8" font-style="italic" font-weight="normal" text-anchor="start" fill="#141414" stroke="#141414" stroke-width="0.35" letter-spacing="0">1</text>
<text transform="translate(366.00 307.00) rotate(-90)" font-family='"Liberation Sans", sans-serif' font-size="12" font-style="italic" font-weight="normal" text-anchor="start" fill="#141414" stroke="#141414" stroke-width="0.35" letter-spacing="0">h</text>
<line x1="0.00" y1="1.50" x2="667.50" y2="2.90" stroke="#141414" stroke-width="1.7" stroke-linecap="butt"/>
</svg></body></html>
